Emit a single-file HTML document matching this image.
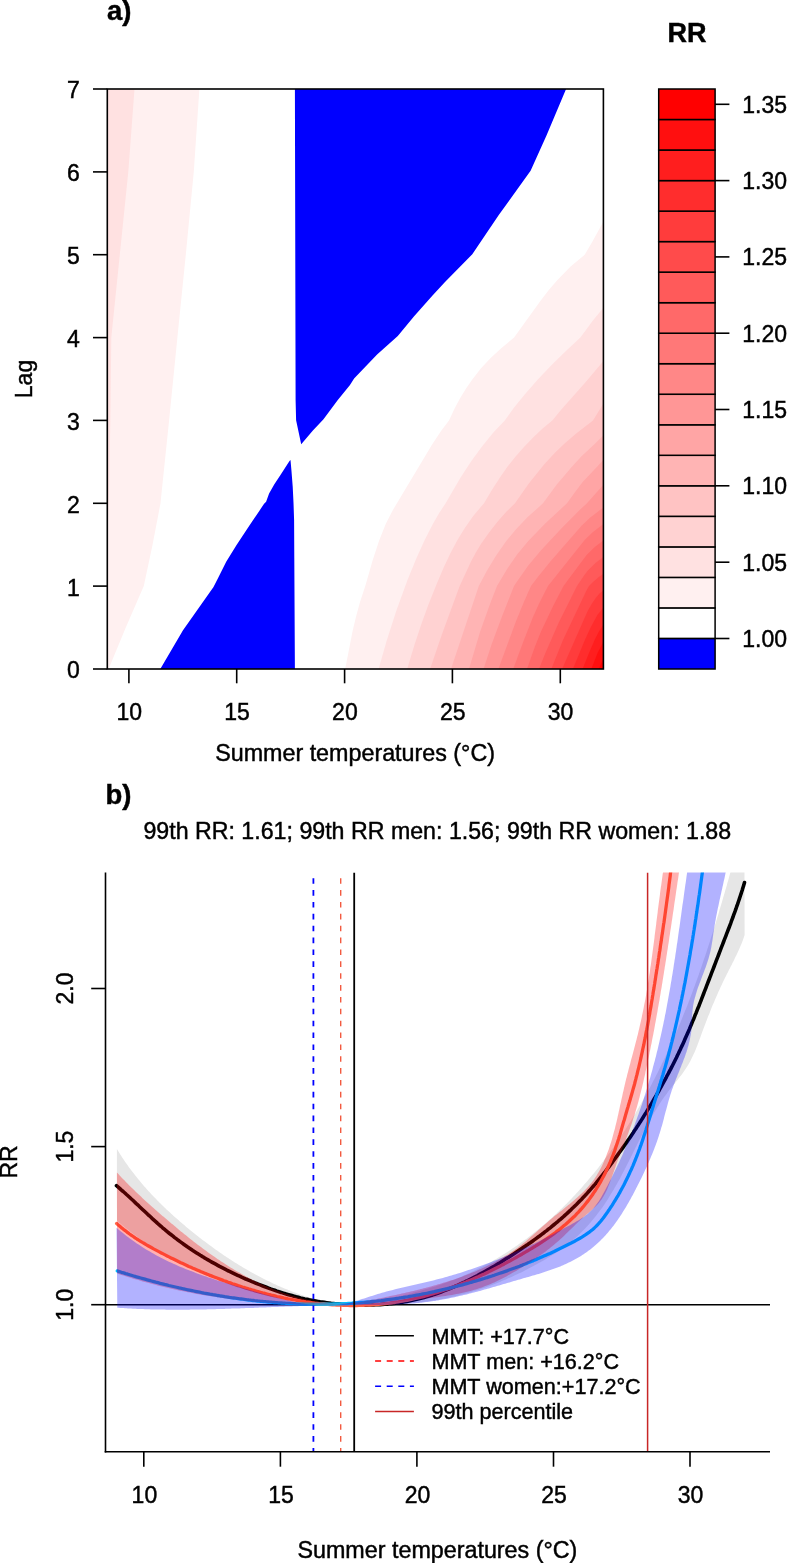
<!DOCTYPE html><html><head><meta charset="utf-8"><style>html,body{margin:0;padding:0;background:#fff;}svg{display:block;will-change:transform;}</style></head><body>
<svg width="787" height="1563" viewBox="0 0 787 1563" font-family="Liberation Sans, sans-serif" fill="#000"><style>text{stroke:#000;stroke-width:0.45px;}</style>
<defs></defs>
<clipPath id="clipA"><rect x="107.3" y="89.0" width="496.09999999999997" height="580.0"/></clipPath>
<g clip-path="url(#clipA)">
<rect x="107.3" y="89.0" width="496.09999999999997" height="580.0" fill="#FFFFFF"/>
<path d="M345.2 669 L603.4 669 L603.4 221.6 L592.6 241.3 L584.7 254.7 L570.6 266.6 L557.2 280.3 L548.6 290.3 L540 301.4 L514.1 337.6 L501.2 348.2 L490.4 358.3 L480.8 368.6 L472.3 379.4 L466.2 388.2 L460.2 398.1 L454.6 408.6 L449 420.4 L441.2 430.8 L432.1 444.6 L392.9 509.9 L385.7 524 L378.9 541.3 L372.6 560.4 L365.3 586.1 L360.1 601.8 L356.2 615.9 L352.6 631Z" fill="#FFF0F0"/>
<path d="M378.6 669 L603.4 669 L603.4 307.7 L593.1 320.3 L580.4 337.6 L565.9 350.9 L552.1 364.4 L537.8 379.4 L524.9 394.2 L514.1 407.6 L504.8 420.4 L493.8 432 L482.2 446.2 L471.4 461.1 L460.6 477.6 L445.6 503.3 L439.5 512.5 L433.4 522.9 L424.8 539.8 L416.3 558.5 L407.5 580.1 L396.5 610.3 L386.8 640.3Z" fill="#FFE1E1"/>
<path d="M407.2 669 L603.4 669 L603.4 360.9 L586.6 380.9 L560.7 410.2 L552.3 420.4 L542.6 428.6 L533.1 437.5 L524 446.9 L515.4 456.7 L507.6 466.6 L500.3 476.9 L492.5 489 L484 503.3 L473.6 515.4 L464.5 528.4 L457.2 540.6 L450.3 553.6 L443.8 567.2 L437.2 582.7 L428.3 605.1 L421.4 624 L414.5 644.8Z" fill="#FFD2D2"/>
<path d="M430.1 669 L603.4 669 L603.4 403.4 L593 420.4 L576.2 433.5 L564.6 443.4 L554.7 453 L544.3 464.3 L528.8 483.5 L515 503.3 L506.3 511.8 L497.7 521.6 L489.1 532.5 L481.3 543.6 L475.7 552.8 L470.8 562 L459.7 586.1 L441.6 635.2Z" fill="#FFC3C3"/>
<path d="M451 669 L603.4 669 L603.4 435.3 L595.2 443.6 L581.8 456.1 L571.9 466.7 L556.8 484.6 L543 503.3 L527.7 517.1 L515.8 529.4 L505.9 541.6 L496 555.8 L486.9 570.7 L478.8 586.1Z" fill="#FFB4B4"/>
<path d="M469 669 L603.4 669 L603.4 460 L582.7 482.1 L576.2 490.4 L567 503.3 L545.2 523.6 L528.1 541.3 L517.1 554.6 L507.6 568.2 L497 586.1 L490.2 603.4 L480 631.9Z" fill="#FFA5A5"/>
<path d="M483.5 669 L603.4 669 L603.4 484.7 L587 503.3 L579.7 509.9 L562.8 527 L541.3 550 L528.3 565.5 L516.7 581.9 L514 586.1 L501.6 617.4 L491.5 644.8Z" fill="#FF9696"/>
<path d="M498.4 669 L603.4 669 L603.4 507.4 L590 517.7 L581.8 525.6 L550.8 561 L538.8 575.8 L531 586.1 L524 601.7 L515.8 621.8Z" fill="#FF8787"/>
<path d="M513.2 669 L603.4 669 L603.4 524 L593 531.9 L584.9 539.7 L548 586.1 L539.1 603.4 L532.9 617.2 L523.4 641.4Z" fill="#FF7878"/>
<path d="M527 669 L603.4 669 L603.4 540.6 L594.8 547.1 L586.6 554.9 L563.5 586.1 L552.9 606.4 L540.8 632 L534.8 646.9Z" fill="#FF6969"/>
<path d="M539 669 L603.4 669 L603.4 557.1 L596.1 562.6 L588.3 570 L584.4 574.9 L577 586.1 L558.1 623.9 L545.2 653.6Z" fill="#FF5A5A"/>
<path d="M551.3 669 L603.4 669 L603.4 573.7 L598.2 577.4 L593 582 L589 586.1 L586.6 590.2 L562.8 640.6Z" fill="#FF4B4B"/>
<path d="M562.1 669 L603.4 669 L603.4 590.4 L599.5 593.6 L596.1 597.5 L592 603.4 L587.9 610.5Z" fill="#FF3C3C"/>
<path d="M572.9 669 L603.4 669 L603.4 607.5 L597.4 615.1 L590.5 627.7 L585.3 639Z" fill="#FF2D2D"/>
<path d="M582.6 669 L603.4 669 L603.4 624.6 L599.1 631.2 L595.2 638.7 L589.2 652.5Z" fill="#FF1E1E"/>
<path d="M591.3 669 L603.4 669 L603.4 641.7 L597.8 652.5Z" fill="#FF0F0F"/>
<path d="M598.8 669 L603.4 669 L603.4 658.7 L601.2 663.3Z" fill="#FF0000"/>
<path d="M100 669 L108.6 669 L126 627 L143.8 586.1 L152.5 545 L160.5 503.3 L169.1 420.4 L177.4 337.6 L185.8 254.7 L193.8 171.8 L199.4 89 L100 89Z" fill="#FFF0F0"/>
<path d="M100 545 L107.3 545 L109.3 480 L110.4 420 L111.3 337.6 L119.8 254.7 L128.3 171.8 L134.5 89 L100 89Z" fill="#FFE1E1"/>
<path d="M159.7 670 L183 630.3 L213.5 587.1 L218.6 577 L226.2 561.7 L236.4 545.2 L249.1 526.1 L259.3 510.9 L264.1 503.7 L266.1 501.7 L269.1 493.6 L274.2 484.4 L280.3 475.3 L289.5 461 L290.5 460 L291.5 471.2 L292.7 486.4 L293.5 502.7 L294.1 520 L294.3 557.9 L294.9 670Z" fill="#0000FF"/>
<path d="M294.9 88 L566.5 88 L546.6 135.3 L530.6 170.8 L498.6 215.3 L472.3 254.2 L445 282 L432.3 295.7 L413.9 316.5 L397.8 336 L377.1 354.5 L354.1 378.6 L350 385 L337.6 400.2 L323.5 419.3 L312.9 430.5 L301.2 444.2 L296.1 420.3 L295.6 400Z" fill="#0000FF"/>
</g>
<rect x="107.3" y="89.0" width="496.09999999999997" height="580.0" fill="none" stroke="#000" stroke-width="1.6"/>
<line x1="93" y1="669" x2="107.3" y2="669" stroke="#000" stroke-width="1.6"/>
<text x="79.8" y="678.4" text-anchor="end" font-size="23">0</text>
<line x1="93" y1="586.1" x2="107.3" y2="586.1" stroke="#000" stroke-width="1.6"/>
<text x="79.8" y="595.5" text-anchor="end" font-size="23">1</text>
<line x1="93" y1="503.3" x2="107.3" y2="503.3" stroke="#000" stroke-width="1.6"/>
<text x="79.8" y="512.7" text-anchor="end" font-size="23">2</text>
<line x1="93" y1="420.4" x2="107.3" y2="420.4" stroke="#000" stroke-width="1.6"/>
<text x="79.8" y="429.8" text-anchor="end" font-size="23">3</text>
<line x1="93" y1="337.6" x2="107.3" y2="337.6" stroke="#000" stroke-width="1.6"/>
<text x="79.8" y="347" text-anchor="end" font-size="23">4</text>
<line x1="93" y1="254.7" x2="107.3" y2="254.7" stroke="#000" stroke-width="1.6"/>
<text x="79.8" y="264.1" text-anchor="end" font-size="23">5</text>
<line x1="93" y1="171.9" x2="107.3" y2="171.9" stroke="#000" stroke-width="1.6"/>
<text x="79.8" y="181.3" text-anchor="end" font-size="23">6</text>
<line x1="93" y1="89" x2="107.3" y2="89" stroke="#000" stroke-width="1.6"/>
<text x="79.8" y="98.4" text-anchor="end" font-size="23">7</text>
<line x1="128.9" y1="669.0" x2="128.9" y2="683.3" stroke="#000" stroke-width="1.6"/>
<text x="129.2" y="720" text-anchor="middle" font-size="23">10</text>
<line x1="236.7" y1="669.0" x2="236.7" y2="683.3" stroke="#000" stroke-width="1.6"/>
<text x="237" y="720" text-anchor="middle" font-size="23">15</text>
<line x1="344.6" y1="669.0" x2="344.6" y2="683.3" stroke="#000" stroke-width="1.6"/>
<text x="344.9" y="720" text-anchor="middle" font-size="23">20</text>
<line x1="452.4" y1="669.0" x2="452.4" y2="683.3" stroke="#000" stroke-width="1.6"/>
<text x="452.7" y="720" text-anchor="middle" font-size="23">25</text>
<line x1="560.3" y1="669.0" x2="560.3" y2="683.3" stroke="#000" stroke-width="1.6"/>
<text x="560.6" y="720" text-anchor="middle" font-size="23">30</text>
<text x="355.1" y="761.2" text-anchor="middle" font-size="23.3">Summer temperatures (°C)</text>
<text transform="translate(32.2 379) rotate(-90)" text-anchor="middle" font-size="23">Lag</text>
<text x="106.9" y="20.3" font-size="27.5" font-weight="bold">a)</text>
<text x="687" y="42.3" text-anchor="middle" font-size="27" font-weight="bold">RR</text>
<rect x="658.7" y="638.5" width="56.4" height="30.5" fill="#0000FF" stroke="#000" stroke-width="1.5"/>
<rect x="658.7" y="607.9" width="56.4" height="30.5" fill="#FFFFFF" stroke="#000" stroke-width="1.5"/>
<rect x="658.7" y="577.4" width="56.4" height="30.5" fill="#FFF0F0" stroke="#000" stroke-width="1.5"/>
<rect x="658.7" y="546.9" width="56.4" height="30.5" fill="#FFE1E1" stroke="#000" stroke-width="1.5"/>
<rect x="658.7" y="516.4" width="56.4" height="30.5" fill="#FFD2D2" stroke="#000" stroke-width="1.5"/>
<rect x="658.7" y="485.8" width="56.4" height="30.5" fill="#FFC3C3" stroke="#000" stroke-width="1.5"/>
<rect x="658.7" y="455.3" width="56.4" height="30.5" fill="#FFB4B4" stroke="#000" stroke-width="1.5"/>
<rect x="658.7" y="424.8" width="56.4" height="30.5" fill="#FFA5A5" stroke="#000" stroke-width="1.5"/>
<rect x="658.7" y="394.3" width="56.4" height="30.5" fill="#FF9696" stroke="#000" stroke-width="1.5"/>
<rect x="658.7" y="363.7" width="56.4" height="30.5" fill="#FF8787" stroke="#000" stroke-width="1.5"/>
<rect x="658.7" y="333.2" width="56.4" height="30.5" fill="#FF7878" stroke="#000" stroke-width="1.5"/>
<rect x="658.7" y="302.7" width="56.4" height="30.5" fill="#FF6969" stroke="#000" stroke-width="1.5"/>
<rect x="658.7" y="272.2" width="56.4" height="30.5" fill="#FF5A5A" stroke="#000" stroke-width="1.5"/>
<rect x="658.7" y="241.6" width="56.4" height="30.5" fill="#FF4B4B" stroke="#000" stroke-width="1.5"/>
<rect x="658.7" y="211.1" width="56.4" height="30.5" fill="#FF3C3C" stroke="#000" stroke-width="1.5"/>
<rect x="658.7" y="180.6" width="56.4" height="30.5" fill="#FF2D2D" stroke="#000" stroke-width="1.5"/>
<rect x="658.7" y="150.1" width="56.4" height="30.5" fill="#FF1E1E" stroke="#000" stroke-width="1.5"/>
<rect x="658.7" y="119.5" width="56.4" height="30.5" fill="#FF0F0F" stroke="#000" stroke-width="1.5"/>
<rect x="658.7" y="89" width="56.4" height="30.5" fill="#FF0000" stroke="#000" stroke-width="1.5"/>
<line x1="715.1" y1="638.5" x2="729.4" y2="638.5" stroke="#000" stroke-width="1.6"/>
<text x="742.3" y="646.8" font-size="23">1.00</text>
<line x1="715.1" y1="562.2" x2="729.4" y2="562.2" stroke="#000" stroke-width="1.6"/>
<text x="742.3" y="570.5" font-size="23">1.05</text>
<line x1="715.1" y1="485.8" x2="729.4" y2="485.8" stroke="#000" stroke-width="1.6"/>
<text x="742.3" y="494.1" font-size="23">1.10</text>
<line x1="715.1" y1="409.5" x2="729.4" y2="409.5" stroke="#000" stroke-width="1.6"/>
<text x="742.3" y="417.8" font-size="23">1.15</text>
<line x1="715.1" y1="333.2" x2="729.4" y2="333.2" stroke="#000" stroke-width="1.6"/>
<text x="742.3" y="341.5" font-size="23">1.20</text>
<line x1="715.1" y1="256.9" x2="729.4" y2="256.9" stroke="#000" stroke-width="1.6"/>
<text x="742.3" y="265.2" font-size="23">1.25</text>
<line x1="715.1" y1="180.6" x2="729.4" y2="180.6" stroke="#000" stroke-width="1.6"/>
<text x="742.3" y="188.9" font-size="23">1.30</text>
<line x1="715.1" y1="104.3" x2="729.4" y2="104.3" stroke="#000" stroke-width="1.6"/>
<text x="742.3" y="112.6" font-size="23">1.35</text>
<clipPath id="clipB"><rect x="105.5" y="872.6" width="664.5" height="579.1"/></clipPath>
<g clip-path="url(#clipB)">
<path d="M116.9 1149 L117.7 1150.3 L118.6 1151.7 L119.4 1153.1 L120.3 1154.4 L121.2 1155.8 L122 1157.2 L122.9 1158.5 L123.8 1159.8 L124.7 1161.2 L125.6 1162.5 L126.5 1163.8 L127.5 1165.1 L128.4 1166.4 L129.3 1167.7 L130.3 1169 L131.2 1170.3 L132.2 1171.6 L133.2 1172.8 L134.2 1174.1 L135.1 1175.3 L136.1 1176.6 L137.1 1177.8 L138.1 1179.1 L139.2 1180.3 L140.2 1181.5 L141.2 1182.8 L142.2 1184 L143.3 1185.2 L144.3 1186.4 L145.4 1187.6 L146.4 1188.8 L147.5 1190 L148.6 1191.2 L149.7 1192.3 L150.7 1193.5 L151.8 1194.7 L152.9 1195.8 L154 1197 L155.1 1198.1 L156.3 1199.3 L157.4 1200.4 L158.5 1201.6 L159.6 1202.7 L160.8 1203.8 L161.9 1204.9 L163.1 1206 L164.2 1207.2 L165.4 1208.3 L166.5 1209.4 L167.7 1210.5 L168.9 1211.5 L170 1212.6 L171.2 1213.7 L172.4 1214.8 L173.6 1215.9 L174.8 1216.9 L176 1218 L177.2 1219.1 L178.4 1220.1 L179.6 1221.2 L180.8 1222.2 L182 1223.3 L183.2 1224.3 L184.5 1225.3 L185.7 1226.4 L186.9 1227.4 L188.2 1228.4 L189.4 1229.4 L190.6 1230.4 L191.9 1231.5 L193.1 1232.5 L194.4 1233.5 L195.6 1234.5 L196.9 1235.5 L198.2 1236.5 L199.4 1237.4 L200.7 1238.4 L202 1239.4 L203.2 1240.4 L204.5 1241.3 L205.8 1242.3 L207.1 1243.3 L208.4 1244.2 L209.7 1245.2 L210.9 1246.1 L212.2 1247.1 L213.5 1248 L214.8 1249 L216.2 1249.9 L217.5 1250.8 L218.8 1251.7 L220.1 1252.7 L221.4 1253.6 L222.7 1254.5 L224.1 1255.4 L225.4 1256.3 L226.7 1257.2 L228.1 1258 L229.4 1258.9 L230.8 1259.8 L232.1 1260.7 L233.4 1261.5 L234.8 1262.4 L236.2 1263.2 L237.5 1264.1 L238.9 1264.9 L240.3 1265.8 L241.6 1266.6 L243 1267.4 L244.4 1268.2 L245.8 1269 L247.1 1269.8 L248.5 1270.6 L249.9 1271.4 L251.3 1272.2 L252.7 1273 L254.1 1273.8 L255.5 1274.5 L256.9 1275.3 L258.4 1276 L259.8 1276.8 L261.2 1277.5 L262.6 1278.3 L264 1279 L265.5 1279.7 L266.9 1280.4 L268.3 1281.1 L269.8 1281.8 L271.2 1282.5 L272.7 1283.2 L274.1 1283.9 L275.6 1284.5 L277 1285.2 L278.5 1285.9 L280 1286.5 L281.5 1287.2 L282.9 1287.8 L284.4 1288.4 L285.9 1289 L287.4 1289.6 L288.9 1290.2 L290.4 1290.8 L291.9 1291.4 L293.4 1292 L294.9 1292.6 L296.4 1293.1 L297.9 1293.7 L299.4 1294.2 L300.9 1294.8 L302.4 1295.3 L304 1295.8 L305.5 1296.3 L307 1296.8 L308.6 1297.3 L310.1 1297.8 L311.7 1298.3 L313.2 1298.7 L314.7 1299.2 L316.3 1299.6 L317.9 1300 L319.4 1300.4 L321 1300.8 L322.5 1301.2 L324.1 1301.5 L325.7 1301.9 L327.2 1302.2 L328.8 1302.5 L330.4 1302.8 L332 1303.1 L333.5 1303.3 L335.1 1303.5 L336.7 1303.8 L338.3 1304 L339.8 1304.1 L341.4 1304.3 L343 1304.4 L344.6 1304.5 L346.2 1304.6 L347.8 1304.7 L349.3 1304.7 L350.9 1304.7 L352.5 1304.7 L354.1 1304.7 L355.7 1304.6 L357.3 1304.5 L358.9 1304.4 L360.5 1304.3 L362 1304.1 L363.6 1304 L365.2 1303.8 L366.8 1303.6 L368.4 1303.3 L370 1303.1 L371.6 1302.8 L373.1 1302.5 L374.7 1302.2 L376.3 1301.9 L377.9 1301.6 L379.5 1301.3 L381 1300.9 L382.6 1300.6 L384.2 1300.2 L385.8 1299.8 L387.3 1299.4 L388.9 1299.1 L390.5 1298.7 L392 1298.3 L393.6 1297.9 L395.2 1297.5 L396.7 1297 L398.3 1296.6 L399.8 1296.2 L401.4 1295.8 L402.9 1295.4 L404.5 1295 L406 1294.6 L407.6 1294.2 L409.1 1293.8 L410.7 1293.4 L412.2 1293 L413.7 1292.6 L415.3 1292.1 L416.8 1291.7 L418.3 1291.3 L419.9 1290.9 L421.4 1290.5 L422.9 1290 L424.4 1289.6 L426 1289.1 L427.5 1288.7 L429 1288.2 L430.5 1287.8 L432 1287.3 L433.6 1286.9 L435.1 1286.4 L436.6 1285.9 L438.1 1285.4 L439.6 1284.9 L441.1 1284.4 L442.6 1283.9 L444.1 1283.3 L445.6 1282.8 L447.2 1282.3 L448.7 1281.7 L450.2 1281.1 L451.7 1280.6 L453.2 1280 L454.7 1279.4 L456.2 1278.8 L457.7 1278.2 L459.2 1277.5 L460.7 1276.9 L462.2 1276.2 L463.7 1275.6 L465.2 1274.9 L466.7 1274.3 L468.2 1273.6 L469.6 1272.9 L471.1 1272.2 L472.6 1271.5 L474.1 1270.8 L475.5 1270 L477 1269.3 L478.4 1268.6 L479.9 1267.8 L481.3 1267.1 L482.8 1266.3 L484.2 1265.6 L485.6 1264.8 L487.1 1264 L488.5 1263.3 L489.9 1262.5 L491.3 1261.7 L492.7 1260.9 L494.1 1260.1 L495.5 1259.2 L496.9 1258.4 L498.3 1257.6 L499.7 1256.8 L501 1255.9 L502.4 1255.1 L503.8 1254.2 L505.1 1253.4 L506.5 1252.5 L507.8 1251.7 L509.2 1250.8 L510.5 1249.9 L511.8 1249 L513.2 1248.1 L514.5 1247.2 L515.8 1246.3 L517.1 1245.4 L518.4 1244.5 L519.7 1243.6 L521 1242.6 L522.3 1241.7 L523.6 1240.8 L524.9 1239.8 L526.2 1238.9 L527.4 1237.9 L528.7 1237 L530 1236 L531.2 1235 L532.5 1234 L533.7 1233.1 L535 1232.1 L536.2 1231.1 L537.5 1230.1 L538.7 1229.1 L539.9 1228.1 L541.1 1227 L542.3 1226 L543.6 1225 L544.8 1224 L546 1222.9 L547.2 1221.9 L548.3 1220.8 L549.5 1219.8 L550.7 1218.7 L551.9 1217.7 L553.1 1216.6 L554.2 1215.5 L555.4 1214.5 L556.6 1213.4 L557.7 1212.3 L558.9 1211.2 L560 1210.1 L561.1 1209 L562.3 1207.9 L563.4 1206.8 L564.5 1205.7 L565.7 1204.6 L566.8 1203.4 L567.9 1202.3 L569 1201.2 L570.1 1200 L571.2 1198.9 L572.3 1197.7 L573.4 1196.6 L574.5 1195.4 L575.6 1194.3 L576.6 1193.1 L577.7 1191.9 L578.8 1190.8 L579.8 1189.6 L580.9 1188.4 L582 1187.2 L583 1186 L584 1184.8 L585.1 1183.6 L586.1 1182.4 L587.2 1181.2 L588.2 1180 L589.2 1178.8 L590.2 1177.6 L591.3 1176.3 L592.3 1175.1 L593.3 1173.9 L594.3 1172.7 L595.3 1171.4 L596.3 1170.2 L597.3 1168.9 L598.3 1167.7 L599.2 1166.4 L600.2 1165.2 L601.2 1163.9 L602.2 1162.6 L603.1 1161.4 L604.1 1160.1 L605 1158.8 L606 1157.5 L606.9 1156.3 L607.9 1155 L608.8 1153.7 L609.8 1152.4 L610.7 1151.1 L611.6 1149.8 L612.6 1148.5 L613.5 1147.2 L614.4 1145.9 L615.3 1144.5 L616.2 1143.2 L617.1 1141.9 L618 1140.6 L618.9 1139.3 L619.8 1137.9 L620.7 1136.6 L621.6 1135.3 L622.5 1133.9 L623.4 1132.6 L624.2 1131.2 L625.1 1129.9 L626 1128.5 L626.8 1127.2 L627.7 1125.8 L628.6 1124.5 L629.4 1123.1 L630.3 1121.7 L631.1 1120.4 L631.9 1119 L632.8 1117.6 L633.6 1116.3 L634.4 1114.9 L635.3 1113.5 L636.1 1112.1 L636.9 1110.7 L637.7 1109.3 L638.5 1108 L639.3 1106.6 L640.2 1105.2 L641 1103.8 L641.7 1102.4 L642.5 1101 L643.3 1099.6 L644.1 1098.1 L644.9 1096.7 L645.7 1095.3 L646.5 1093.9 L647.2 1092.5 L648 1091.1 L648.8 1089.7 L649.5 1088.2 L650.3 1086.8 L651 1085.4 L651.8 1084 L652.5 1082.5 L653.3 1081.1 L654 1079.7 L654.8 1078.2 L655.5 1076.8 L656.2 1075.3 L657 1073.9 L657.7 1072.5 L658.4 1071 L659.1 1069.6 L659.8 1068.1 L660.5 1066.7 L661.2 1065.2 L661.9 1063.8 L662.7 1062.3 L663.3 1060.9 L664 1059.4 L664.7 1057.9 L665.4 1056.5 L666.1 1055 L666.8 1053.6 L667.5 1052.1 L668.1 1050.6 L668.8 1049.2 L669.5 1047.7 L670.1 1046.2 L670.8 1044.7 L671.5 1043.3 L672.1 1041.8 L672.8 1040.3 L673.4 1038.8 L674.1 1037.4 L674.7 1035.9 L675.4 1034.4 L676 1032.9 L676.6 1031.5 L677.3 1030 L677.9 1028.5 L678.5 1027 L679.1 1025.5 L679.8 1024 L680.4 1022.6 L681 1021.1 L681.6 1019.6 L682.2 1018.1 L682.8 1016.6 L683.4 1015.1 L684 1013.6 L684.6 1012.1 L685.2 1010.6 L685.8 1009.2 L686.4 1007.7 L687 1006.2 L687.6 1004.7 L688.1 1003.2 L688.7 1001.7 L689.3 1000.2 L689.9 998.7 L690.4 997.2 L691 995.7 L691.6 994.2 L692.1 992.7 L692.7 991.2 L693.2 989.7 L693.8 988.2 L694.3 986.7 L694.9 985.2 L695.4 983.7 L696 982.2 L696.5 980.7 L697.1 979.3 L697.6 977.8 L698.1 976.3 L698.7 974.8 L699.2 973.3 L699.7 971.8 L700.2 970.3 L700.8 968.8 L701.3 967.3 L701.8 965.7 L702.3 964.2 L702.8 962.7 L703.3 961.2 L703.8 959.7 L704.3 958.2 L704.9 956.7 L705.4 955.2 L705.9 953.7 L706.4 952.2 L706.9 950.7 L707.3 949.2 L707.8 947.7 L708.3 946.2 L708.8 944.7 L709.3 943.2 L709.8 941.7 L710.3 940.1 L710.8 938.6 L711.2 937.1 L711.7 935.6 L712.2 934.1 L712.7 932.6 L713.1 931.1 L713.6 929.6 L714.1 928 L714.6 926.5 L715 925 L715.5 923.5 L716 922 L716.4 920.5 L716.9 918.9 L717.3 917.4 L717.8 915.9 L718.3 914.4 L718.7 912.9 L719.2 911.3 L719.6 909.8 L720.1 908.3 L720.5 906.8 L721 905.2 L721.4 903.7 L721.9 902.2 L722.3 900.7 L722.8 899.1 L723.2 897.6 L723.7 896.1 L724.1 894.6 L724.6 893 L725 891.5 L725.4 890 L725.9 888.4 L726.3 886.9 L726.8 885.4 L727.2 883.8 L727.6 882.3 L728.1 880.8 L728.5 879.2 L728.9 877.7 L729.4 876.1 L729.8 874.6 L730.2 873.1 L730.7 871.5 L731.1 870 L731.5 868.4 L732 866.9 L732.4 865.3 L732.8 863.8 L733.3 862.2 L733.7 860.7 L734.1 859.2 L734.5 857.6 L735 856.1 L735.4 854.5 L735.8 852.9 L736.3 851.4 L736.7 849.8 L737.1 848.3 L737.5 846.7 L738 845.2 L738.4 843.6 L738.8 842.1 L739.2 840.5 L739.7 838.9 L740.1 837.4 L740.5 835.8 L740.9 834.2 L741.4 832.7 L741.8 831.1 L742.2 829.5 L742.7 828 L743.1 826.4 L743.5 824.8 L743.9 823.3 L744.4 821.7 L744.4 821.7 L744.6 935.1 L744.4 935.7 L743.7 937.7 L743 939.7 L742.3 941.7 L741.5 943.7 L740.7 945.6 L739.9 947.5 L739 949.5 L738.1 951.4 L737.3 953.3 L736.4 955.2 L735.4 957.1 L734.5 959 L733.6 960.9 L732.6 962.8 L731.7 964.7 L730.7 966.6 L729.8 968.4 L728.8 970.3 L727.9 972.2 L726.9 974.1 L726 976 L725 977.8 L724.1 979.7 L723.2 981.6 L722.3 983.5 L721.4 985.4 L720.5 987.3 L719.7 989.2 L718.8 991.1 L717.9 993.1 L717.1 995 L716.2 996.9 L715.4 998.8 L714.6 1000.8 L713.8 1002.7 L712.9 1004.6 L712.1 1006.6 L711.3 1008.5 L710.5 1010.4 L709.8 1012.4 L709 1014.4 L708.2 1016.3 L707.4 1018.3 L706.7 1020.2 L705.9 1022.2 L705.2 1024.2 L704.4 1026.2 L703.7 1028.1 L703 1030.1 L702.2 1032.1 L701.5 1034.1 L700.8 1036.1 L700.1 1038.1 L699.3 1040.1 L698.6 1042.1 L697.8 1044.1 L697.1 1046 L696.3 1048 L695.5 1049.9 L694.7 1051.9 L693.8 1053.8 L692.9 1055.7 L692 1057.6 L691.1 1059.5 L690.1 1061.4 L689.1 1063.2 L688.1 1065 L687 1066.8 L685.9 1068.6 L684.7 1070.3 L683.5 1072.1 L682.3 1073.8 L681 1075.4 L679.7 1077.1 L678.4 1078.8 L677.1 1080.4 L675.8 1082.1 L674.5 1083.7 L673.1 1085.3 L671.8 1087 L670.5 1088.7 L669.2 1090.3 L667.9 1092 L666.7 1093.7 L665.4 1095.4 L664.2 1097.1 L663 1098.8 L661.8 1100.6 L660.7 1102.3 L659.5 1104.1 L658.4 1105.9 L657.3 1107.6 L656.2 1109.4 L655.1 1111.2 L654 1113 L652.9 1114.8 L651.9 1116.6 L650.9 1118.5 L649.8 1120.3 L648.8 1122.1 L647.8 1124 L646.8 1125.8 L645.8 1127.7 L644.8 1129.5 L643.8 1131.4 L642.9 1133.3 L641.9 1135.2 L641 1137 L640 1138.9 L639 1140.8 L638.1 1142.7 L637.2 1144.6 L636.2 1146.4 L635.3 1148.3 L634.3 1150.2 L633.4 1152.1 L632.5 1154 L631.5 1155.9 L630.6 1157.8 L629.6 1159.7 L628.7 1161.5 L627.7 1163.4 L626.8 1165.3 L625.8 1167.2 L624.9 1169.1 L623.9 1170.9 L622.9 1172.8 L621.9 1174.7 L621 1176.5 L620 1178.4 L619 1180.2 L617.9 1182.1 L616.9 1183.9 L615.9 1185.8 L614.8 1187.6 L613.8 1189.4 L612.7 1191.2 L611.6 1193 L610.5 1194.8 L609.4 1196.6 L608.3 1198.4 L607.2 1200.2 L606 1201.9 L604.9 1203.7 L603.7 1205.4 L602.5 1207.2 L601.2 1208.9 L600 1210.6 L598.7 1212.3 L597.4 1214 L596.1 1215.7 L594.8 1217.3 L593.5 1219 L592.1 1220.6 L590.8 1222.2 L589.4 1223.8 L587.9 1225.4 L586.5 1227 L585.1 1228.5 L583.6 1230 L582.1 1231.5 L580.6 1233 L579.1 1234.5 L577.6 1235.9 L576 1237.4 L574.4 1238.8 L572.8 1240.2 L571.2 1241.5 L569.6 1242.9 L568 1244.2 L566.3 1245.5 L564.6 1246.7 L562.9 1248 L561.2 1249.2 L559.5 1250.4 L557.8 1251.6 L556 1252.7 L554.3 1253.9 L552.5 1255 L550.7 1256.1 L548.9 1257.2 L547.1 1258.3 L545.3 1259.4 L543.5 1260.5 L541.7 1261.5 L539.9 1262.6 L538 1263.6 L536.2 1264.6 L534.3 1265.6 L532.5 1266.6 L530.6 1267.6 L528.7 1268.6 L526.8 1269.5 L525 1270.5 L523.1 1271.4 L521.2 1272.4 L519.3 1273.3 L517.3 1274.2 L515.4 1275.1 L513.5 1276 L511.6 1276.9 L509.7 1277.7 L507.7 1278.6 L505.8 1279.4 L503.8 1280.3 L501.9 1281.1 L499.9 1281.9 L497.9 1282.7 L496 1283.5 L494 1284.2 L492 1285 L490 1285.7 L488.1 1286.4 L486.1 1287.2 L484.1 1287.9 L482.1 1288.5 L480.1 1289.2 L478.1 1289.9 L476.1 1290.5 L474 1291.1 L472 1291.8 L470 1292.4 L468 1292.9 L465.9 1293.5 L463.9 1294.1 L461.9 1294.6 L459.8 1295.1 L457.8 1295.7 L455.8 1296.2 L453.7 1296.6 L451.7 1297.1 L449.6 1297.5 L447.6 1298 L445.5 1298.4 L443.5 1298.8 L441.4 1299.2 L439.3 1299.6 L437.3 1299.9 L435.2 1300.3 L433.1 1300.6 L431.1 1300.9 L429 1301.2 L426.9 1301.5 L424.8 1301.7 L422.8 1302 L420.7 1302.2 L418.6 1302.5 L416.5 1302.7 L414.4 1302.9 L412.3 1303.1 L410.3 1303.3 L408.2 1303.4 L406.1 1303.6 L404 1303.7 L401.9 1303.9 L399.8 1304 L397.7 1304.1 L395.6 1304.2 L393.5 1304.3 L391.4 1304.3 L389.3 1304.4 L387.2 1304.5 L385.1 1304.5 L383 1304.5 L380.9 1304.5 L378.8 1304.6 L376.7 1304.6 L374.6 1304.5 L372.4 1304.5 L370.3 1304.5 L368.2 1304.5 L366.1 1304.4 L364 1304.4 L361.9 1304.3 L359.8 1304.2 L357.7 1304.2 L355.5 1304.1 L353.4 1304 L351.3 1303.9 L349.2 1303.8 L347.1 1303.7 L345 1303.5 L342.9 1303.4 L340.7 1303.3 L338.6 1303.1 L336.5 1303 L334.4 1302.8 L332.3 1302.6 L330.2 1302.4 L328.1 1302.3 L325.9 1302.1 L323.8 1301.9 L321.7 1301.6 L319.6 1301.4 L317.5 1301.2 L315.4 1300.9 L313.3 1300.7 L311.2 1300.4 L309.1 1300.2 L307 1299.9 L304.9 1299.6 L302.8 1299.3 L300.7 1299 L298.6 1298.7 L296.5 1298.4 L294.4 1298.1 L292.3 1297.7 L290.2 1297.4 L288.1 1297 L286 1296.7 L283.9 1296.3 L281.8 1295.9 L279.8 1295.5 L277.7 1295.1 L275.6 1294.7 L273.5 1294.3 L271.4 1293.9 L269.4 1293.4 L267.3 1293 L265.2 1292.5 L263.2 1292 L261.1 1291.6 L259.1 1291.1 L257 1290.6 L255 1290.1 L252.9 1289.5 L250.9 1289 L248.8 1288.5 L246.8 1287.9 L244.8 1287.4 L242.7 1286.8 L240.7 1286.2 L238.7 1285.6 L236.7 1285 L234.6 1284.4 L232.6 1283.8 L230.6 1283.1 L228.6 1282.5 L226.6 1281.8 L224.6 1281.2 L222.6 1280.5 L220.7 1279.8 L218.7 1279.1 L216.7 1278.4 L214.7 1277.7 L212.7 1276.9 L210.8 1276.2 L208.8 1275.4 L206.9 1274.7 L204.9 1273.9 L203 1273.1 L201 1272.3 L199.1 1271.5 L197.2 1270.6 L195.2 1269.8 L193.3 1268.9 L191.4 1268.1 L189.5 1267.2 L187.6 1266.3 L185.7 1265.4 L183.8 1264.5 L181.9 1263.6 L180 1262.7 L178.2 1261.7 L176.3 1260.8 L174.4 1259.8 L172.6 1258.8 L170.7 1257.8 L168.9 1256.8 L167.1 1255.8 L165.2 1254.8 L163.4 1253.7 L161.6 1252.6 L159.8 1251.6 L158 1250.5 L156.2 1249.4 L154.4 1248.3 L152.6 1247.2 L150.8 1246 L149.1 1244.9 L147.3 1243.7 L145.5 1242.5 L143.8 1241.4 L142.1 1240.2 L140.3 1238.9 L138.6 1237.7 L136.9 1236.5 L135.2 1235.2 L133.5 1233.9 L131.8 1232.7 L130.1 1231.4 L128.4 1230.1 L126.7 1228.7 L125.1 1227.4 L123.4 1226.1 L121.8 1224.7 L120.1 1223.3 L118.5 1221.9 L116.9 1220.5Z" fill="#E6E6E6"/>
<path d="M116.5 1185.7 L118.2 1187.1 L119.9 1188.6 L121.5 1190.1 L123.2 1191.5 L124.9 1193 L126.5 1194.5 L128.2 1196 L129.8 1197.5 L131.4 1199 L133.1 1200.5 L134.7 1202.1 L136.3 1203.6 L138 1205.1 L139.6 1206.7 L141.2 1208.2 L142.8 1209.7 L144.5 1211.3 L146.1 1212.8 L147.7 1214.3 L149.4 1215.8 L151 1217.3 L152.6 1218.9 L154.3 1220.4 L156 1221.9 L157.6 1223.4 L159.3 1224.8 L161 1226.3 L162.6 1227.8 L164.3 1229.2 L166 1230.6 L167.8 1232.1 L169.5 1233.5 L171.2 1234.8 L173 1236.2 L174.7 1237.6 L176.5 1238.9 L178.3 1240.3 L180.1 1241.6 L181.9 1242.9 L183.7 1244.2 L185.5 1245.5 L187.3 1246.8 L189.1 1248 L191 1249.3 L192.8 1250.5 L194.7 1251.7 L196.6 1252.9 L198.4 1254.1 L200.3 1255.3 L202.2 1256.4 L204.1 1257.6 L206 1258.7 L208 1259.9 L209.9 1261 L211.8 1262.1 L213.8 1263.2 L215.7 1264.2 L217.7 1265.3 L219.6 1266.4 L221.6 1267.4 L223.6 1268.4 L225.5 1269.4 L227.5 1270.5 L229.5 1271.4 L231.5 1272.4 L233.5 1273.4 L235.6 1274.4 L237.6 1275.3 L239.6 1276.2 L241.6 1277.2 L243.7 1278.1 L245.7 1279 L247.8 1279.8 L249.8 1280.7 L251.9 1281.6 L253.9 1282.4 L256 1283.3 L258.1 1284.1 L260.2 1284.9 L262.3 1285.7 L264.3 1286.5 L266.4 1287.3 L268.5 1288.1 L270.6 1288.9 L272.7 1289.6 L274.8 1290.3 L277 1291.1 L279.1 1291.8 L281.2 1292.4 L283.3 1293.1 L285.5 1293.8 L287.6 1294.4 L289.7 1295 L291.9 1295.6 L294 1296.2 L296.2 1296.8 L298.3 1297.3 L300.5 1297.9 L302.7 1298.4 L304.8 1298.9 L307 1299.3 L309.2 1299.8 L311.4 1300.2 L313.5 1300.6 L315.7 1301 L317.9 1301.4 L320.1 1301.8 L322.3 1302.1 L324.5 1302.4 L326.7 1302.7 L328.9 1303 L331.1 1303.3 L333.4 1303.5 L335.6 1303.7 L337.8 1303.9 L340 1304.1 L342.2 1304.3 L344.5 1304.5 L346.7 1304.6 L348.9 1304.7 L351.1 1304.8 L353.4 1304.9 L355.6 1305 L357.9 1305 L360.1 1305.1 L362.3 1305.1 L364.6 1305.1 L366.8 1305.1 L369.1 1305 L371.3 1305 L373.5 1304.9 L375.8 1304.8 L378 1304.7 L380.2 1304.6 L382.5 1304.4 L384.7 1304.2 L386.9 1304.1 L389.2 1303.8 L391.4 1303.6 L393.6 1303.4 L395.8 1303.1 L398.1 1302.8 L400.3 1302.5 L402.5 1302.1 L404.7 1301.8 L406.9 1301.4 L409 1301 L411.2 1300.5 L413.4 1300.1 L415.6 1299.6 L417.7 1299.1 L419.9 1298.5 L422 1298 L424.2 1297.4 L426.3 1296.8 L428.4 1296.2 L430.6 1295.5 L432.7 1294.9 L434.8 1294.2 L436.9 1293.5 L439 1292.7 L441.1 1292 L443.1 1291.2 L445.2 1290.4 L447.3 1289.6 L449.3 1288.8 L451.4 1287.9 L453.4 1287.1 L455.5 1286.2 L457.5 1285.3 L459.5 1284.4 L461.6 1283.4 L463.6 1282.5 L465.6 1281.5 L467.6 1280.6 L469.6 1279.6 L471.6 1278.6 L473.5 1277.6 L475.5 1276.5 L477.5 1275.5 L479.5 1274.4 L481.4 1273.4 L483.4 1272.3 L485.3 1271.2 L487.3 1270.1 L489.2 1269 L491.2 1267.9 L493.1 1266.8 L495 1265.7 L496.9 1264.5 L498.8 1263.4 L500.7 1262.2 L502.6 1261 L504.5 1259.8 L506.4 1258.6 L508.3 1257.4 L510.2 1256.2 L512.1 1255 L514 1253.8 L515.8 1252.6 L517.7 1251.3 L519.5 1250.1 L521.4 1248.8 L523.2 1247.6 L525.1 1246.3 L526.9 1245.1 L528.7 1243.8 L530.6 1242.5 L532.4 1241.2 L534.2 1239.9 L536 1238.6 L537.8 1237.3 L539.6 1236 L541.4 1234.6 L543.2 1233.3 L544.9 1231.9 L546.7 1230.6 L548.4 1229.2 L550.2 1227.8 L551.9 1226.4 L553.6 1225 L555.3 1223.6 L557.1 1222.2 L558.7 1220.7 L560.4 1219.3 L562.1 1217.8 L563.8 1216.4 L565.4 1214.9 L567.1 1213.4 L568.7 1211.9 L570.3 1210.4 L571.9 1208.8 L573.5 1207.3 L575.1 1205.7 L576.7 1204.2 L578.3 1202.6 L579.8 1201 L581.4 1199.4 L582.9 1197.8 L584.4 1196.2 L586 1194.6 L587.5 1192.9 L588.9 1191.3 L590.4 1189.6 L591.9 1187.9 L593.3 1186.3 L594.8 1184.6 L596.2 1182.9 L597.6 1181.1 L599 1179.4 L600.4 1177.7 L601.8 1176 L603.2 1174.2 L604.6 1172.5 L606 1170.7 L607.3 1168.9 L608.7 1167.2 L610 1165.4 L611.3 1163.6 L612.7 1161.8 L614 1160 L615.3 1158.2 L616.6 1156.4 L617.9 1154.6 L619.2 1152.8 L620.5 1151 L621.8 1149.2 L623.1 1147.4 L624.4 1145.5 L625.7 1143.7 L627 1141.9 L628.2 1140 L629.5 1138.2 L630.7 1136.4 L632 1134.5 L633.2 1132.7 L634.4 1130.8 L635.7 1129 L636.9 1127.1 L638.1 1125.3 L639.3 1123.4 L640.5 1121.5 L641.7 1119.6 L642.9 1117.7 L644 1115.9 L645.2 1114 L646.4 1112.1 L647.5 1110.2 L648.7 1108.3 L649.8 1106.4 L651 1104.5 L652.1 1102.5 L653.2 1100.6 L654.3 1098.7 L655.5 1096.8 L656.6 1094.8 L657.7 1092.9 L658.8 1091 L659.9 1089 L660.9 1087.1 L662 1085.1 L663.1 1083.2 L664.2 1081.2 L665.2 1079.3 L666.3 1077.3 L667.3 1075.3 L668.4 1073.4 L669.4 1071.4 L670.5 1069.4 L671.5 1067.4 L672.5 1065.5 L673.5 1063.5 L674.5 1061.5 L675.5 1059.5 L676.5 1057.5 L677.4 1055.5 L678.4 1053.5 L679.3 1051.5 L680.3 1049.5 L681.2 1047.4 L682.2 1045.4 L683.1 1043.4 L684 1041.4 L684.9 1039.3 L685.8 1037.3 L686.7 1035.3 L687.6 1033.2 L688.5 1031.2 L689.4 1029.1 L690.2 1027.1 L691.1 1025 L691.9 1023 L692.8 1020.9 L693.7 1018.9 L694.5 1016.8 L695.3 1014.7 L696.2 1012.7 L697 1010.6 L697.8 1008.5 L698.7 1006.5 L699.5 1004.4 L700.3 1002.3 L701.1 1000.3 L701.9 998.2 L702.7 996.1 L703.5 994 L704.3 991.9 L705.1 989.9 L705.9 987.8 L706.7 985.7 L707.5 983.6 L708.3 981.5 L709.1 979.5 L709.9 977.4 L710.7 975.3 L711.5 973.2 L712.3 971.1 L713.1 969.1 L713.9 967 L714.7 964.9 L715.5 962.8 L716.3 960.7 L717.1 958.6 L717.9 956.6 L718.7 954.5 L719.5 952.4 L720.3 950.3 L721.1 948.2 L721.9 946.2 L722.7 944.1 L723.5 942 L724.3 939.9 L725.1 937.9 L725.9 935.8 L726.7 933.7 L727.5 931.6 L728.3 929.5 L729.1 927.5 L729.9 925.4 L730.7 923.3 L731.4 921.2 L732.2 919.1 L733 917 L733.7 914.9 L734.5 912.8 L735.3 910.7 L736 908.7 L736.7 906.5 L737.5 904.4 L738.2 902.3 L738.9 900.2 L739.6 898.1 L740.3 896 L741 893.9 L741.7 891.8 L742.4 889.6 L743 887.5 L743.7 885.4 L744.3 883.2 L744.5 882.5" fill="none" stroke="#000" stroke-width="3.6" stroke-linecap="round" stroke-linejoin="round"/>
<line x1="105.5" y1="1304.7" x2="770.0" y2="1304.7" stroke="#000" stroke-width="1.6"/>
<path d="M116.6 1223.5 L117.8 1224.6 L118.9 1225.6 L120.1 1226.6 L121.3 1227.6 L122.5 1228.5 L123.7 1229.5 L124.9 1230.4 L126.1 1231.3 L127.8 1232.7 L129.6 1234 L131.5 1235.3 L133.3 1236.5 L135.1 1237.8 L136.9 1239 L138.7 1240.1 L140.6 1241.3 L142.4 1242.4 L144.3 1243.5 L146.1 1244.6 L148 1245.7 L149.9 1246.8 L151.7 1247.8 L153.6 1248.9 L155.5 1249.9 L157.4 1250.9 L159.3 1251.9 L161.3 1252.9 L163.2 1253.9 L165.1 1254.9 L167.1 1255.9 L169 1256.9 L171 1257.9 L172.9 1258.8 L174.9 1259.8 L176.9 1260.8 L178.8 1261.7 L180.8 1262.7 L182.8 1263.6 L184.8 1264.5 L186.8 1265.4 L188.8 1266.4 L190.9 1267.3 L192.9 1268.2 L194.9 1269 L197 1269.9 L199 1270.8 L201.1 1271.7 L203.1 1272.5 L205.2 1273.4 L207.2 1274.2 L209.3 1275.1 L211.4 1275.9 L213.5 1276.7 L215.6 1277.5 L217.7 1278.3 L219.8 1279.1 L221.9 1279.9 L224 1280.7 L226.1 1281.4 L228.2 1282.2 L230.3 1282.9 L232.4 1283.7 L234.6 1284.4 L236.7 1285.1 L238.1 1285.6 L239.5 1286 L241 1286.5 L242.4 1287 L243.8 1287.4 L245.3 1287.9 L246.7 1288.3 L248.1 1288.7 L249.6 1289.2 L251 1289.6 L252.5 1290 L253.9 1290.4 L255.3 1290.9 L256.8 1291.3 L258.2 1291.7 L259.7 1292.1 L261.1 1292.5 L262.6 1292.9 L264 1293.2 L265.5 1293.6 L266.9 1294 L268.4 1294.4 L269.8 1294.7 L271.3 1295.1 L272.8 1295.4 L274.9 1295.9 L277.1 1296.5 L279.3 1296.9 L281.5 1297.4 L283.7 1297.9 L285.9 1298.3 L288.1 1298.8 L290.3 1299.2 L292.5 1299.6 L294.7 1300 L296.9 1300.4 L299.2 1300.8 L301.4 1301.2 L303.6 1301.5 L305.8 1301.9 L308 1302.2 L310.2 1302.5 L312.4 1302.8 L314.6 1303.1 L316.9 1303.3 L319.1 1303.6 L321.3 1303.8 L323.5 1304 L325.7 1304.2 L327.9 1304.4 L330.2 1304.6 L332.4 1304.8 L334.6 1304.9 L336.8 1305 L339 1305.1 L341.2 1305.2 L343.5 1305.3 L345.7 1305.4 L347.9 1305.4 L350.1 1305.5 L352.3 1305.5 L354.5 1305.5 L356.7 1305.5 L358.9 1305.4 L361.1 1305.4 L363.3 1305.3 L365.5 1305.2 L367.7 1305.1 L369.9 1305 L372.1 1304.9 L374.3 1304.7 L376.5 1304.6 L378.7 1304.4 L380.9 1304.2 L383.1 1303.9 L385.3 1303.7 L387.5 1303.4 L389.6 1303.2 L391.8 1302.9 L394 1302.5 L396.2 1302.2 L398.3 1301.9 L400.5 1301.5 L402.6 1301.1 L404.8 1300.7 L407 1300.3 L409.1 1299.8 L411.3 1299.4 L413.4 1298.9 L415.5 1298.4 L417.7 1297.9 L419.8 1297.4 L422 1296.8 L424.1 1296.3 L426.2 1295.7 L428.3 1295.1 L430.4 1294.5 L432.6 1293.9 L434.7 1293.2 L436.8 1292.6 L438.9 1291.9 L441 1291.2 L443.1 1290.5 L445.2 1289.8 L447.3 1289.1 L449.4 1288.4 L451.4 1287.6 L453.5 1286.8 L455.6 1286.1 L457.7 1285.3 L459.7 1284.5 L461.8 1283.6 L463.9 1282.8 L465.9 1282 L468 1281.1 L470 1280.3 L472.1 1279.4 L474.1 1278.5 L476.2 1277.6 L478.2 1276.7 L480.2 1275.7 L482.3 1274.8 L484.3 1273.9 L486.3 1272.9 L488.3 1271.9 L490.3 1271 L492.3 1270 L494.3 1269 L496.3 1268 L498.3 1267 L500.3 1266 L502.3 1264.9 L504.3 1263.9 L506.3 1262.8 L508.2 1261.8 L510.2 1260.7 L512.2 1259.6 L514.1 1258.6 L516.1 1257.5 L518 1256.4 L520 1255.3 L521.9 1254.2 L523.8 1253 L525.8 1251.9 L527.7 1250.8 L529.6 1249.6 L531.5 1248.5 L533.4 1247.3 L535.3 1246.2 L537.2 1245 L539.1 1243.8 L541 1242.6 L542.8 1241.4 L544.7 1240.1 L546.5 1238.9 L548.3 1237.6 L550.1 1236.4 L551.9 1235.1 L553.7 1233.8 L555.5 1232.5 L557.2 1231.1 L559 1229.8 L560.7 1228.4 L562.4 1227 L564.1 1225.6 L565.8 1224.2 L567.4 1222.8 L569.1 1221.3 L570.7 1219.8 L572.3 1218.3 L573.9 1216.8 L575.4 1215.3 L576.9 1213.7 L578.5 1212.1 L579.9 1210.5 L581.4 1208.9 L582.9 1207.2 L584.3 1205.5 L585.7 1203.8 L587 1202.1 L588.4 1200.4 L589.7 1198.6 L591 1196.8 L592.3 1195 L593.5 1193.1 L594.8 1191.3 L596 1189.4 L597.1 1187.5 L598.3 1185.6 L599.4 1183.7 L600.5 1181.8 L601.6 1179.8 L602.7 1177.8 L603.7 1175.9 L604.7 1173.9 L605.7 1171.9 L606.7 1169.8 L607.7 1167.8 L608.6 1165.8 L609.5 1163.7 L610.4 1161.7 L611.2 1159.6 L612.1 1157.5 L612.9 1155.5 L613.7 1153.4 L614.5 1151.3 L615.2 1149.2 L615.9 1147.1 L616.6 1145 L617.3 1142.9 L618 1140.8 L618.7 1138.7 L619.3 1136.6 L620 1134.5 L620.6 1132.4 L621.2 1130.3 L621.8 1128.1 L622.4 1126 L623 1123.9 L623.6 1121.8 L624.3 1119.7 L624.9 1117.5 L625.5 1115.4 L626.1 1113.3 L626.7 1111.2 L627.3 1109.1 L628 1106.9 L628.6 1104.8 L629.2 1102.7 L629.9 1100.6 L630.5 1098.4 L631.1 1096.3 L631.7 1094.2 L632.3 1092.1 L632.9 1089.9 L633.5 1087.8 L634.1 1085.7 L634.7 1083.5 L635.2 1081.4 L635.8 1079.2 L636.3 1077.1 L636.9 1074.9 L637.4 1072.8 L637.9 1070.6 L638.5 1068.5 L639 1066.3 L639.5 1064.2 L640 1062 L640.5 1059.8 L641 1057.7 L641.4 1055.5 L641.9 1053.4 L642.4 1051.2 L642.8 1049 L643.3 1046.8 L643.8 1044.7 L644.2 1042.5 L644.6 1040.3 L645.1 1038.2 L645.5 1036 L645.9 1033.8 L646.3 1031.6 L646.8 1029.4 L647.2 1027.3 L647.6 1025.1 L648 1022.9 L648.4 1020.7 L648.8 1018.5 L649.2 1016.3 L649.6 1014.2 L649.9 1012 L650.3 1009.8 L650.7 1007.6 L651.1 1005.4 L651.4 1003.2 L651.8 1001 L652.2 998.8 L652.5 996.7 L652.9 994.5 L653.2 992.3 L653.6 990.1 L654 987.9 L654.3 985.7 L654.7 983.5 L655 981.3 L655.4 979.1 L655.7 976.9 L656 974.8 L656.4 972.6 L656.7 970.4 L657.1 968.2 L657.4 966 L657.8 963.8 L658.1 961.6 L658.4 959.4 L658.8 957.2 L659.1 955 L659.4 952.8 L659.8 950.7 L660.1 948.5 L660.4 946.3 L660.7 944.1 L661.1 941.9 L661.4 939.7 L661.7 937.5 L662 935.3 L662.4 933.1 L662.7 930.9 L663 928.8 L663.3 926.6 L663.6 924.4 L664 922.2 L664.3 920 L664.6 917.8 L664.9 915.6 L665.2 913.4 L665.5 911.2 L665.8 909 L666.1 906.8 L666.4 904.6 L666.7 902.4 L667 900.2 L667.3 898 L667.6 895.9 L667.9 893.7 L668.2 891.5 L668.5 889.3 L668.8 887.1 L669 884.9 L669.3 882.7 L669.6 880.5 L669.9 878.3 L670.2 876.1 L670.4 873.9 L670.7 871.7 L671 869.5 L671.3 867.3 L671.5 865.1 L671.8 862.9 L672.1 860.7 L672.3 858.5 L672.6 856.3 L672.8 854.1 L673.1 851.8 L673.4 849.6 L673.6 847.4 L673.8 846" fill="none" stroke="#FF6347" stroke-width="3.3" stroke-linecap="round" stroke-linejoin="round"/>
<path d="M117.2 1270.9 L119.3 1271.6 L121.4 1272.3 L123.6 1272.9 L125.7 1273.6 L127.8 1274.2 L130 1274.9 L132.1 1275.5 L134.3 1276.2 L136.4 1276.8 L138.5 1277.4 L140.7 1278 L142.9 1278.6 L145 1279.2 L147.2 1279.8 L149.3 1280.4 L151.5 1281 L153.7 1281.6 L155.8 1282.2 L158 1282.7 L160.2 1283.3 L162.4 1283.8 L164.5 1284.4 L166.7 1284.9 L168.9 1285.5 L171.1 1286 L173.3 1286.5 L175.5 1287 L177.7 1287.5 L179.1 1287.9 L180.6 1288.2 L182 1288.5 L183.5 1288.8 L185 1289.2 L186.4 1289.5 L187.9 1289.8 L189.4 1290.1 L190.8 1290.4 L192.3 1290.7 L193.8 1291 L195.3 1291.3 L196.7 1291.6 L198.2 1291.9 L199.7 1292.2 L201.2 1292.5 L202.6 1292.8 L204.1 1293.1 L205.6 1293.3 L207.1 1293.6 L208.5 1293.9 L210 1294.2 L211.5 1294.4 L213 1294.7 L214.5 1294.9 L215.9 1295.2 L217.4 1295.5 L218.9 1295.7 L220.4 1296 L221.9 1296.2 L223.4 1296.4 L224.8 1296.7 L226.3 1296.9 L227.8 1297.1 L229.3 1297.4 L230.8 1297.6 L232.3 1297.8 L233.8 1298 L235.2 1298.2 L236.7 1298.4 L238.2 1298.6 L239.7 1298.8 L241.2 1299 L242.7 1299.2 L244.2 1299.4 L245.7 1299.6 L247.2 1299.8 L248.7 1300 L250.2 1300.1 L251.7 1300.3 L253.1 1300.5 L254.6 1300.7 L256.1 1300.8 L257.6 1301 L259.1 1301.1 L260.6 1301.3 L262.1 1301.4 L263.6 1301.6 L265.1 1301.7 L266.6 1301.9 L268.1 1302 L269.6 1302.1 L271.1 1302.2 L272.6 1302.4 L274.1 1302.5 L275.6 1302.6 L277.1 1302.7 L278.6 1302.8 L280.1 1302.9 L281.6 1303 L283.1 1303.1 L284.6 1303.2 L286.1 1303.3 L287.6 1303.4 L289.1 1303.5 L290.6 1303.5 L292.1 1303.6 L293.6 1303.7 L295.1 1303.7 L296.6 1303.8 L298.1 1303.9 L299.6 1303.9 L301.1 1304 L302.6 1304 L304.8 1304.1 L307.1 1304.1 L309.3 1304.2 L311.6 1304.2 L313.8 1304.2 L316.1 1304.2 L318.3 1304.2 L320.6 1304.2 L322.8 1304.2 L325.1 1304.2 L327.3 1304.2 L329.5 1304.1 L331.8 1304.1 L334 1304 L336.3 1303.9 L338.5 1303.9 L340.8 1303.8 L343 1303.7 L345.3 1303.6 L347.5 1303.5 L349.7 1303.3 L352 1303.2 L354.2 1303 L356.5 1302.9 L358.7 1302.7 L360.9 1302.5 L363.2 1302.4 L365.4 1302.2 L367.6 1302 L369.9 1301.8 L372.1 1301.5 L374.3 1301.3 L376.6 1301.1 L378.8 1300.8 L381 1300.6 L383.2 1300.3 L385.5 1300 L387.7 1299.7 L389.9 1299.4 L392.1 1299.1 L394.4 1298.8 L396.6 1298.5 L398.8 1298.2 L401 1297.8 L403.2 1297.5 L405.5 1297.1 L407.7 1296.8 L409.9 1296.4 L412.1 1296 L414.3 1295.6 L416.5 1295.2 L418.7 1294.8 L420.9 1294.4 L423.1 1293.9 L425.3 1293.5 L427.5 1293.1 L429.7 1292.6 L431.9 1292.1 L434.1 1291.7 L436.3 1291.2 L438.5 1290.7 L440.7 1290.2 L442.9 1289.7 L445.1 1289.2 L447.2 1288.7 L449.4 1288.1 L451.6 1287.6 L453.8 1287 L456 1286.5 L458.1 1285.9 L460.3 1285.3 L462.5 1284.8 L464.7 1284.2 L466.8 1283.6 L469 1283 L471.2 1282.3 L472.6 1281.9 L474 1281.5 L475.5 1281.1 L476.9 1280.7 L478.4 1280.2 L479.8 1279.8 L481.2 1279.4 L482.7 1278.9 L484.1 1278.5 L485.5 1278 L487 1277.6 L488.4 1277.1 L489.8 1276.7 L491.2 1276.2 L492.7 1275.7 L494.1 1275.3 L495.5 1274.8 L497 1274.3 L498.4 1273.8 L499.8 1273.3 L501.2 1272.8 L502.6 1272.4 L504.1 1271.9 L505.5 1271.4 L506.9 1270.9 L508.3 1270.3 L509.7 1269.8 L511.1 1269.3 L512.5 1268.8 L513.9 1268.3 L515.3 1267.8 L516.7 1267.2 L518.2 1266.7 L519.6 1266.2 L521 1265.6 L522.4 1265.1 L523.7 1264.5 L525.1 1264 L526.5 1263.4 L527.9 1262.8 L529.3 1262.3 L530.7 1261.7 L532.1 1261.1 L533.5 1260.6 L534.9 1260 L536.3 1259.4 L537.6 1258.8 L539 1258.2 L540.4 1257.6 L541.8 1257 L543.8 1256.1 L545.9 1255.2 L547.9 1254.3 L550 1253.4 L552 1252.4 L554.1 1251.5 L556.1 1250.5 L558.1 1249.5 L560.1 1248.6 L562.2 1247.6 L564.2 1246.6 L566.2 1245.6 L568.2 1244.6 L570.2 1243.6 L572.2 1242.5 L574.2 1241.5 L576.1 1240.4 L578.1 1239.3 L580 1238.2 L581.9 1237.1 L583.8 1235.9 L585.7 1234.7 L587.5 1233.4 L589.3 1232.1 L591 1230.8 L592.7 1229.4 L594.4 1227.9 L596 1226.4 L597.5 1224.8 L599 1223.2 L600.5 1221.5 L601.9 1219.7 L603.3 1218 L604.2 1216.8 L605.1 1215.5 L606 1214.3 L606.8 1213.1 L607.7 1211.9 L608.5 1210.6 L609.4 1209.4 L610.2 1208.1 L611.1 1206.8 L611.9 1205.6 L612.7 1204.3 L613.5 1203 L614.3 1201.7 L615.1 1200.5 L615.9 1199.2 L616.6 1197.9 L617.4 1196.6 L618.2 1195.3 L618.9 1194 L619.7 1192.6 L620.4 1191.3 L621.1 1190 L621.8 1188.7 L622.6 1187.3 L623.3 1186 L624 1184.7 L624.7 1183.3 L625.3 1182 L626 1180.6 L626.7 1179.3 L627.3 1177.9 L628 1176.5 L628.6 1175.2 L629.3 1173.8 L629.9 1172.4 L630.5 1171.1 L631.2 1169.7 L631.8 1168.3 L632.4 1166.9 L633 1165.6 L633.6 1164.2 L634.1 1162.8 L634.7 1161.4 L635.3 1160 L635.8 1158.6 L636.4 1157.2 L637.2 1155.1 L638 1153 L638.8 1150.9 L639.6 1148.8 L640.3 1146.7 L641.1 1144.6 L641.8 1142.5 L642.5 1140.4 L643.2 1138.3 L643.9 1136.1 L644.6 1134 L645.3 1131.9 L646 1129.8 L646.6 1127.7 L647.3 1125.5 L647.9 1123.4 L648.6 1121.3 L649.3 1119.1 L649.9 1117 L650.6 1114.8 L651.2 1112.7 L651.9 1110.6 L652.5 1108.4 L653.2 1106.3 L653.8 1104.1 L654.5 1102 L655.2 1099.8 L655.8 1097.7 L656.3 1096.3 L656.7 1094.8 L657.2 1093.4 L657.6 1092 L658.1 1090.5 L658.5 1089.1 L658.9 1087.7 L659.4 1086.2 L659.8 1084.8 L660.3 1083.3 L660.7 1081.9 L661.1 1080.5 L661.6 1079 L662 1077.6 L662.4 1076.2 L662.9 1074.7 L663.3 1073.3 L663.7 1071.8 L664.1 1070.4 L664.5 1068.9 L665 1067.5 L665.4 1066.1 L665.8 1064.6 L666.2 1063.2 L666.6 1061.7 L667 1060.3 L667.4 1058.8 L667.8 1057.4 L668.2 1055.9 L668.6 1054.5 L668.9 1053 L669.5 1050.9 L670.1 1048.7 L670.7 1046.5 L671.2 1044.3 L671.8 1042.1 L672.3 1040 L672.9 1037.8 L673.4 1035.6 L673.9 1033.4 L674.5 1031.2 L675 1029 L675.5 1026.9 L676 1024.7 L676.5 1022.5 L677 1020.3 L677.5 1018.1 L678 1015.9 L678.5 1013.7 L679 1011.5 L679.5 1009.3 L679.9 1007.1 L680.4 1004.9 L680.9 1002.7 L681.3 1000.5 L681.8 998.3 L682.2 996.1 L682.7 993.9 L683.1 991.7 L683.6 989.5 L684 987.3 L684.4 985.1 L684.9 982.9 L685.3 980.7 L685.7 978.5 L686.1 976.3 L686.5 974.1 L686.9 971.9 L687.3 969.7 L687.7 967.5 L688.1 965.3 L688.5 963.1 L688.9 960.8 L689.3 958.6 L689.7 956.4 L690.1 954.2 L690.4 952 L690.8 949.8 L691.2 947.6 L691.6 945.4 L691.9 943.1 L692.3 940.9 L692.7 938.7 L693 936.5 L693.4 934.3 L693.7 932 L694.1 929.8 L694.4 927.6 L694.8 925.4 L695.1 923.2 L695.4 920.9 L695.8 918.7 L696.1 916.5 L696.4 914.3 L696.8 912.1 L697.1 909.8 L697.4 907.6 L697.8 905.4 L698.1 903.2 L698.4 900.9 L698.7 898.7 L699 896.5 L699.4 894.3 L699.7 892 L700 889.8 L700.3 887.6 L700.6 885.3 L700.9 883.1 L701.2 880.9 L701.5 878.7 L701.8 876.4 L702.1 874.2 L702.4 872 L702.7 869.8 L703 867.5 L703.3 865.3 L703.6 863.1 L703.9 860.8 L704.2 858.6 L704.5 856.4 L704.8 854.2 L705.1 851.9 L705.4 849.7 L705.7 847.5 L705.9 846" fill="none" stroke="#00BFFF" stroke-width="3.3" stroke-linecap="round" stroke-linejoin="round"/>
<path d="M116.9 1172.5 L118.4 1174.1 L119.9 1175.8 L121.5 1177.4 L123 1179 L124.6 1180.6 L126.1 1182.2 L127.7 1183.8 L129.3 1185.4 L130.9 1187 L132.5 1188.6 L134.1 1190.1 L135.7 1191.7 L136.8 1192.7 L137.9 1193.8 L139 1194.8 L140.1 1195.8 L141.2 1196.8 L142.3 1197.9 L143.4 1198.9 L144.5 1199.9 L145.6 1200.9 L146.7 1201.9 L147.9 1202.9 L149 1203.9 L150.1 1204.9 L151.2 1205.9 L152.3 1206.9 L153.5 1207.9 L154.6 1208.9 L155.7 1209.9 L156.9 1210.9 L158 1211.9 L159.1 1212.9 L160.3 1213.9 L161.4 1214.9 L162.5 1215.9 L163.7 1216.8 L164.8 1217.8 L166 1218.8 L167.1 1219.8 L168.3 1220.8 L169.4 1221.7 L170.6 1222.7 L171.7 1223.7 L172.9 1224.6 L174 1225.6 L175.2 1226.6 L176.3 1227.5 L177.5 1228.5 L178.6 1229.4 L179.8 1230.4 L180.9 1231.4 L182.1 1232.3 L183.3 1233.3 L184.4 1234.2 L185.6 1235.1 L186.8 1236.1 L188.5 1237.5 L190.3 1238.9 L192.1 1240.3 L193.8 1241.7 L195.6 1243 L197.4 1244.4 L199.2 1245.8 L201 1247.1 L202.8 1248.5 L204.6 1249.8 L206.4 1251.1 L208.2 1252.4 L210 1253.7 L211.8 1255 L213.7 1256.3 L215.5 1257.6 L217.4 1258.9 L219.2 1260.1 L221.1 1261.4 L223 1262.6 L224.8 1263.8 L226.7 1265 L228.6 1266.2 L230.5 1267.4 L232.4 1268.6 L234.3 1269.7 L236.3 1270.9 L238.2 1272 L240.2 1273.1 L242.1 1274.2 L244.1 1275.3 L246 1276.4 L248 1277.4 L250 1278.5 L251.4 1279.2 L252.7 1279.9 L254 1280.5 L255.4 1281.2 L256.7 1281.9 L258.1 1282.5 L259.5 1283.2 L260.8 1283.8 L262.2 1284.4 L263.6 1285 L264.9 1285.7 L266.3 1286.3 L267.7 1286.9 L269.1 1287.4 L270.5 1288 L271.9 1288.6 L273.3 1289.2 L274.7 1289.7 L276.1 1290.3 L277.6 1290.8 L279 1291.3 L280.4 1291.9 L281.8 1292.4 L283.3 1292.9 L284.7 1293.4 L286.1 1293.8 L287.6 1294.3 L289 1294.8 L290.4 1295.2 L291.9 1295.7 L293.3 1296.1 L294.8 1296.5 L296.2 1297 L297.7 1297.4 L299.2 1297.7 L300.6 1298.1 L302.1 1298.5 L303.5 1298.9 L305 1299.2 L306.5 1299.5 L307.9 1299.9 L309.4 1300.2 L310.9 1300.5 L313.1 1300.9 L315.3 1301.3 L317.5 1301.7 L319.7 1302.1 L321.9 1302.4 L324.1 1302.7 L326.3 1303 L328.5 1303.2 L330.8 1303.4 L333 1303.5 L335.2 1303.6 L337.4 1303.7 L339.6 1303.7 L341.8 1303.6 L344.1 1303.5 L346.3 1303.4 L348.5 1303.2 L350.7 1303 L353 1302.8 L355.2 1302.5 L357.4 1302.3 L359.6 1301.9 L361.9 1301.6 L363.3 1301.4 L364.8 1301.1 L366.3 1300.8 L367.8 1300.6 L369.3 1300.3 L370.7 1300 L372.2 1299.7 L373.7 1299.5 L375.2 1299.2 L376.7 1298.9 L378.2 1298.6 L379.6 1298.3 L381.1 1298 L382.6 1297.7 L384.1 1297.4 L385.5 1297.1 L387 1296.8 L388.5 1296.4 L390 1296.1 L391.4 1295.8 L392.9 1295.5 L394.4 1295.2 L395.9 1294.9 L397.3 1294.6 L398.8 1294.2 L400.3 1293.9 L401.7 1293.6 L403.2 1293.3 L404.7 1292.9 L406.1 1292.6 L407.6 1292.3 L409.1 1291.9 L410.5 1291.6 L412 1291.2 L413.5 1290.9 L414.9 1290.5 L416.4 1290.2 L417.9 1289.8 L419.3 1289.4 L420.8 1289.1 L422.2 1288.7 L423.7 1288.3 L425.2 1287.9 L426.6 1287.6 L428.1 1287.2 L429.5 1286.8 L431 1286.4 L432.4 1286 L433.9 1285.6 L435.3 1285.2 L436.8 1284.8 L438.2 1284.3 L439.7 1283.9 L441.1 1283.5 L442.6 1283 L444 1282.6 L445.5 1282.2 L446.9 1281.7 L448.3 1281.3 L449.8 1280.8 L451.2 1280.3 L452.6 1279.9 L454.1 1279.4 L455.5 1278.9 L456.9 1278.4 L458.3 1277.9 L459.8 1277.4 L461.2 1276.9 L462.6 1276.4 L464 1275.8 L465.4 1275.3 L466.8 1274.8 L468.2 1274.2 L469.6 1273.7 L471 1273.1 L473.1 1272.3 L475.1 1271.4 L477.2 1270.5 L479.3 1269.6 L481.3 1268.7 L483.3 1267.7 L485.4 1266.8 L487.4 1265.8 L489.4 1264.8 L491.4 1263.8 L493.4 1262.8 L495.3 1261.7 L497.3 1260.6 L499.2 1259.5 L501.2 1258.4 L503.1 1257.3 L505 1256.1 L506.9 1254.9 L508.8 1253.7 L510.6 1252.5 L512.5 1251.3 L514.3 1250 L516.1 1248.7 L517.9 1247.4 L519.7 1246 L521.5 1244.7 L523.2 1243.3 L525 1241.9 L526.7 1240.4 L528.4 1239 L530.1 1237.5 L531.2 1236.5 L532.4 1235.5 L533.5 1234.5 L534.6 1233.5 L535.8 1232.5 L536.9 1231.5 L538 1230.5 L539.1 1229.5 L540.3 1228.5 L541.4 1227.5 L542.5 1226.5 L543.6 1225.5 L544.8 1224.5 L545.9 1223.5 L547.1 1222.5 L548.2 1221.5 L549.4 1220.5 L550.5 1219.5 L551.7 1218.5 L552.9 1217.6 L554 1216.6 L555.2 1215.6 L556.4 1214.7 L557.6 1213.7 L558.8 1212.8 L560 1211.8 L561.2 1210.9 L562.3 1209.9 L563.5 1209 L564.7 1208 L565.9 1207.1 L567.1 1206.1 L568.3 1205.1 L569.4 1204.2 L570.6 1203.2 L571.8 1202.3 L572.9 1201.3 L574.1 1200.3 L575.2 1199.3 L576.3 1198.3 L577.5 1197.3 L579.1 1195.8 L580.8 1194.3 L582.4 1192.8 L584 1191.2 L585.5 1189.6 L587 1188 L588.5 1186.3 L589.9 1184.6 L591.3 1182.9 L592.7 1181.2 L594 1179.4 L595.3 1177.6 L596.5 1175.7 L597.6 1173.8 L598.7 1171.9 L599.8 1169.9 L600.9 1167.9 L601.9 1165.9 L602.8 1163.9 L603.7 1161.9 L604.6 1159.8 L605.5 1157.7 L606.3 1155.7 L607.1 1153.6 L607.9 1151.5 L608.7 1149.4 L609.4 1147.2 L610.1 1145.1 L610.8 1143 L611.5 1140.8 L611.9 1139.4 L612.3 1137.9 L612.7 1136.5 L613.1 1135 L613.5 1133.6 L613.9 1132.1 L614.3 1130.7 L614.7 1129.2 L615.1 1127.8 L615.4 1126.3 L615.8 1124.8 L616.1 1123.4 L616.5 1121.9 L616.8 1120.4 L617.2 1118.9 L617.5 1117.5 L617.8 1116 L618.2 1114.5 L618.5 1113 L618.8 1111.6 L619.2 1110.1 L619.5 1108.6 L619.8 1107.1 L620.1 1105.6 L620.4 1104.2 L620.8 1102.7 L621.1 1101.2 L621.4 1099.7 L621.7 1098.2 L622.1 1096.8 L622.4 1095.3 L622.7 1093.8 L623 1092.3 L623.4 1090.9 L623.7 1089.4 L624 1087.9 L624.4 1086.5 L624.7 1085 L625.1 1083.5 L625.4 1082.1 L625.8 1080.6 L626.1 1079.1 L626.5 1077.7 L626.9 1076.2 L627.2 1074.8 L627.6 1073.3 L628 1071.9 L628.5 1069.7 L629.1 1067.5 L629.7 1065.3 L630.3 1063.2 L630.8 1061 L631.4 1058.8 L632 1056.7 L632.6 1054.5 L633.2 1052.3 L633.7 1050.2 L634.3 1048 L634.9 1045.8 L635.4 1043.7 L636 1041.5 L636.6 1039.3 L637.1 1037.1 L637.7 1035 L638.2 1032.8 L638.7 1030.6 L639.2 1028.4 L639.7 1026.3 L640.2 1024.1 L640.7 1021.9 L641.2 1019.7 L641.7 1017.5 L642.1 1015.3 L642.6 1013.1 L643 1010.9 L643.5 1008.7 L643.9 1006.5 L644.3 1004.3 L644.8 1002.1 L645.2 999.9 L645.6 997.7 L646 995.5 L646.3 993.2 L646.7 991 L647 989.5 L647.2 988.1 L647.5 986.6 L647.7 985.1 L647.9 983.6 L648.2 982.1 L648.4 980.7 L648.7 979.2 L648.9 977.7 L649.1 976.2 L649.3 974.7 L649.6 973.2 L649.8 971.7 L650 970.3 L650.2 968.8 L650.4 967.3 L650.7 965.8 L650.9 964.3 L651.1 962.8 L651.3 961.3 L651.5 959.8 L651.7 958.3 L651.9 956.8 L652.1 955.4 L652.3 953.9 L652.5 952.4 L652.7 950.9 L652.9 949.4 L653.1 947.9 L653.3 946.4 L653.5 944.9 L653.7 943.4 L653.9 941.9 L654.1 940.4 L654.3 938.9 L654.5 937.4 L654.6 935.9 L654.8 934.5 L655 933 L655.2 931.5 L655.4 930 L655.6 928.5 L655.8 927 L656 925.5 L656.2 924 L656.3 922.5 L656.5 921 L656.7 919.5 L656.9 918 L657.1 916.5 L657.3 915 L657.5 913.5 L657.7 912 L657.8 910.5 L658 909.1 L658.2 907.6 L658.4 906.1 L658.6 904.6 L658.8 903.1 L659 901.6 L659.2 900.1 L659.4 898.6 L659.6 897.1 L659.8 895.6 L660 894.1 L660.1 892.7 L660.3 891.2 L660.5 889.7 L660.7 888.2 L660.9 886.7 L661.2 885.2 L661.5 883 L661.8 880.8 L662.1 878.5 L662.4 876.3 L662.7 874.1 L663.1 871.9 L663.4 869.7 L663.7 867.4 L664.1 865.2 L664.4 863 L664.8 860.8 L665.1 858.6 L665.5 856.4 L665.8 854.2 L666.2 852 L666.6 849.8 L667 847.6 L667 847.6 L683 846 L682.9 846.7 L682.5 848.9 L682.2 851.1 L681.9 853.3 L681.5 855.5 L681.2 857.7 L680.9 859.9 L680.6 862 L680.2 864.2 L679.9 866.4 L679.6 868.6 L679.3 870.8 L678.9 873 L678.6 875.2 L678.3 877.4 L678 879.6 L677.6 881.7 L677.3 883.9 L677 886.1 L676.7 888.3 L676.3 890.5 L676 892.7 L675.7 894.9 L675.4 897.1 L675.1 899.3 L674.7 901.5 L674.4 903.6 L674.1 905.8 L673.8 908 L673.5 910.2 L673.1 912.4 L672.8 914.6 L672.5 916.8 L672.2 919 L671.8 921.2 L671.5 923.4 L671.2 925.5 L670.9 927.7 L670.5 929.9 L670.2 932.1 L669.9 934.3 L669.5 936.5 L669.2 938.7 L668.9 940.9 L668.6 943.1 L668.2 945.2 L667.9 947.4 L667.6 949.6 L667.2 951.8 L666.9 954 L666.5 956.2 L666.2 958.4 L665.9 960.6 L665.5 962.7 L665.2 964.9 L664.8 967.1 L664.5 969.3 L664.1 971.5 L663.8 973.7 L663.4 975.9 L663.1 978 L662.7 980.2 L662.4 982.4 L662 984.6 L661.7 986.8 L661.3 989 L660.9 991.1 L660.6 993.3 L660.2 995.5 L659.8 997.7 L659.5 999.9 L659.1 1002.1 L658.7 1004.2 L658.3 1006.4 L657.9 1008.6 L657.6 1010.8 L657.2 1013 L656.8 1015.1 L656.4 1017.3 L656 1019.5 L655.6 1021.7 L655.2 1023.8 L654.8 1026 L654.4 1028.2 L654 1030.4 L653.6 1032.5 L653.2 1034.7 L652.7 1036.9 L652.3 1039.1 L651.9 1041.2 L651.5 1043.4 L651 1045.6 L650.6 1047.7 L650.2 1049.9 L649.7 1052.1 L649.3 1054.2 L648.9 1056.4 L648.4 1058.6 L647.9 1060.7 L647.5 1062.9 L647 1065.1 L646.6 1067.2 L646.1 1069.4 L645.6 1071.6 L645.2 1073.7 L644.7 1075.9 L644.2 1078 L643.7 1080.2 L643.2 1082.4 L642.7 1084.5 L642.2 1086.7 L641.7 1088.8 L641.1 1091 L640.6 1093.1 L640 1095.2 L639.5 1097.4 L638.9 1099.5 L638.4 1101.7 L637.8 1103.8 L637.2 1105.9 L636.6 1108 L635.9 1110.2 L635.3 1112.3 L634.7 1114.4 L634 1116.5 L633.3 1118.6 L632.7 1120.7 L632 1122.8 L631.3 1124.9 L630.5 1127 L629.8 1129 L629 1131.1 L628.3 1133.2 L627.5 1135.2 L626.7 1137.3 L625.9 1139.4 L625.1 1141.4 L624.2 1143.5 L623.4 1145.5 L622.6 1147.6 L621.8 1149.7 L621 1151.7 L620.2 1153.8 L619.4 1155.9 L618.6 1158 L617.8 1160.1 L617.1 1162.2 L616.3 1164.3 L615.6 1166.4 L614.9 1168.5 L614.1 1170.7 L613.4 1172.8 L612.6 1174.9 L611.9 1177 L611.1 1179.1 L610.4 1181.2 L609.6 1183.3 L608.8 1185.3 L607.9 1187.4 L607.1 1189.4 L606.1 1191.4 L605.2 1193.3 L604.1 1195.2 L603.1 1197.1 L601.9 1198.9 L600.7 1200.6 L599.4 1202.3 L598 1203.9 L596.5 1205.5 L595 1207 L593.4 1208.5 L591.8 1210 L590.1 1211.4 L588.4 1212.9 L586.8 1214.3 L585.1 1215.8 L583.4 1217.2 L581.8 1218.7 L580.1 1220.2 L578.5 1221.7 L576.9 1223.3 L575.3 1224.8 L573.7 1226.4 L572.1 1227.9 L570.5 1229.5 L568.9 1231 L567.4 1232.6 L565.8 1234.1 L564.2 1235.7 L562.6 1237.2 L560.9 1238.7 L559.3 1240.2 L557.6 1241.7 L556 1243.1 L554.3 1244.5 L552.6 1245.9 L550.9 1247.3 L549.2 1248.7 L547.4 1250.1 L545.7 1251.4 L543.9 1252.7 L542.1 1254 L540.4 1255.3 L538.5 1256.6 L536.7 1257.8 L534.9 1259.1 L533.1 1260.3 L531.2 1261.5 L529.4 1262.7 L527.5 1263.9 L525.6 1265.1 L523.7 1266.3 L521.8 1267.5 L519.9 1268.6 L518 1269.8 L516.1 1270.9 L514.1 1272 L512.2 1273.1 L510.2 1274.2 L508.3 1275.3 L506.3 1276.4 L504.3 1277.4 L502.3 1278.5 L500.3 1279.5 L498.3 1280.5 L496.3 1281.4 L494.3 1282.4 L492.3 1283.3 L490.2 1284.2 L488.2 1285 L486.1 1285.8 L484.1 1286.6 L482 1287.4 L479.9 1288.1 L477.8 1288.8 L475.7 1289.5 L473.6 1290.1 L471.5 1290.7 L469.4 1291.3 L467.2 1291.8 L465.1 1292.3 L462.9 1292.8 L460.8 1293.3 L458.6 1293.7 L456.5 1294.1 L454.3 1294.5 L452.1 1294.9 L450 1295.3 L447.8 1295.6 L445.6 1296 L443.4 1296.3 L441.2 1296.6 L439.1 1296.9 L436.9 1297.2 L434.7 1297.5 L432.5 1297.7 L430.3 1298 L428.1 1298.2 L425.9 1298.5 L423.7 1298.8 L421.5 1299 L419.3 1299.2 L417.1 1299.5 L414.9 1299.7 L412.7 1299.9 L410.5 1300.2 L408.3 1300.4 L406 1300.6 L403.8 1300.8 L401.6 1301 L399.4 1301.2 L397.2 1301.4 L395 1301.6 L392.8 1301.8 L390.6 1301.9 L388.4 1302.1 L386.2 1302.3 L383.9 1302.4 L381.7 1302.6 L379.5 1302.8 L377.3 1302.9 L375.1 1303 L372.9 1303.2 L370.7 1303.3 L368.4 1303.4 L366.2 1303.5 L364 1303.7 L361.8 1303.8 L359.6 1303.9 L357.4 1304 L355.1 1304.1 L352.9 1304.1 L350.7 1304.2 L348.5 1304.3 L346.3 1304.4 L344.1 1304.4 L341.8 1304.5 L339.6 1304.5 L337.4 1304.6 L335.2 1304.6 L333 1304.7 L330.7 1304.7 L328.5 1304.7 L326.3 1304.7 L324.1 1304.7 L321.9 1304.7 L319.7 1304.7 L317.4 1304.7 L315.2 1304.7 L313 1304.7 L310.8 1304.7 L308.6 1304.6 L306.4 1304.6 L304.1 1304.5 L301.9 1304.5 L299.7 1304.4 L297.5 1304.4 L295.3 1304.3 L293.1 1304.2 L290.8 1304.1 L288.6 1304 L286.4 1303.9 L284.2 1303.8 L282 1303.7 L279.8 1303.6 L277.6 1303.5 L275.4 1303.4 L273.2 1303.2 L270.9 1303.1 L268.7 1302.9 L266.5 1302.8 L264.3 1302.6 L262.1 1302.4 L259.9 1302.2 L257.7 1302.1 L255.5 1301.9 L253.3 1301.7 L251.1 1301.5 L248.9 1301.2 L246.7 1301 L244.5 1300.8 L242.3 1300.6 L240.1 1300.3 L237.9 1300.1 L235.7 1299.8 L233.5 1299.5 L231.3 1299.3 L229.1 1299 L226.9 1298.7 L224.7 1298.4 L222.5 1298.1 L220.4 1297.8 L218.2 1297.5 L216 1297.1 L213.8 1296.8 L211.6 1296.5 L209.4 1296.1 L207.3 1295.8 L205.1 1295.4 L202.9 1295 L200.7 1294.7 L198.5 1294.3 L196.4 1293.9 L194.2 1293.5 L192 1293.1 L189.9 1292.6 L187.7 1292.2 L185.5 1291.8 L183.4 1291.3 L181.2 1290.9 L179 1290.4 L176.9 1290 L174.7 1289.5 L172.6 1289 L170.4 1288.5 L168.2 1288 L166.1 1287.5 L163.9 1287 L161.8 1286.5 L159.6 1285.9 L157.5 1285.4 L155.4 1284.8 L153.2 1284.3 L151.1 1283.7 L148.9 1283.1 L146.8 1282.6 L144.7 1282 L142.5 1281.4 L140.4 1280.8 L138.3 1280.1 L136.2 1279.5 L134 1278.9 L131.9 1278.2 L129.8 1277.6 L127.7 1276.9 L125.6 1276.2 L123.4 1275.6 L121.3 1274.9 L119.2 1274.2 L117.1 1273.5Z" fill="#FF0000" fill-opacity="0.3"/>
<path d="M116.5 1227.7 L117.7 1228.7 L118.8 1229.7 L120 1230.7 L121.2 1231.7 L122.3 1232.6 L123.5 1233.6 L124.7 1234.5 L125.9 1235.5 L127.1 1236.4 L128.3 1237.3 L129.5 1238.2 L131.3 1239.5 L133.1 1240.8 L134.9 1242.1 L136.8 1243.4 L138.6 1244.6 L140.5 1245.8 L142.3 1247 L144.2 1248.2 L146.1 1249.4 L148 1250.5 L149.9 1251.6 L151.8 1252.7 L153.7 1253.8 L155.7 1254.9 L157.6 1255.9 L159.6 1257 L161.5 1258 L163.5 1259 L165.4 1259.9 L167.4 1260.9 L169.4 1261.9 L171.4 1262.8 L173.4 1263.7 L175.4 1264.6 L177.4 1265.5 L179.4 1266.4 L181.5 1267.2 L183.5 1268.1 L185.5 1268.9 L187.6 1269.7 L189.6 1270.5 L191.7 1271.3 L193.8 1272.1 L195.8 1272.9 L197.9 1273.7 L200 1274.4 L202.1 1275.2 L204.2 1275.9 L206.3 1276.6 L208.4 1277.4 L210.5 1278.1 L212.6 1278.8 L214.8 1279.5 L216.9 1280.2 L219 1280.9 L221.2 1281.5 L223.3 1282.2 L225.4 1282.9 L226.9 1283.3 L228.3 1283.7 L229.8 1284.2 L231.2 1284.6 L232.6 1285.1 L234.1 1285.5 L235.5 1285.9 L237 1286.3 L238.4 1286.8 L239.9 1287.2 L241.3 1287.6 L242.8 1288 L244.2 1288.5 L245.7 1288.9 L247.1 1289.3 L248.6 1289.7 L250.1 1290.2 L251.5 1290.6 L253 1291 L254.5 1291.4 L255.9 1291.8 L257.4 1292.3 L258.9 1292.7 L260.3 1293.1 L261.8 1293.5 L263.3 1293.9 L264.8 1294.4 L266.2 1294.8 L267.7 1295.2 L269.2 1295.6 L270.7 1296 L272.1 1296.4 L273.6 1296.8 L275.1 1297.2 L276.6 1297.6 L278.1 1298 L279.5 1298.4 L281 1298.8 L282.5 1299.2 L284 1299.6 L285.5 1299.9 L287 1300.3 L288.4 1300.6 L289.9 1301 L291.4 1301.3 L292.9 1301.6 L294.4 1302 L295.8 1302.3 L297.3 1302.6 L298.8 1302.8 L300.3 1303.1 L301.8 1303.4 L303.2 1303.6 L305.5 1304 L307.7 1304.3 L309.9 1304.6 L312.1 1304.8 L314.3 1305 L316.5 1305.2 L318.7 1305.4 L320.9 1305.5 L323.1 1305.5 L325.3 1305.6 L327.5 1305.5 L329.7 1305.5 L331.9 1305.4 L334.1 1305.2 L336.2 1305 L338.4 1304.7 L340.6 1304.4 L342.7 1304.1 L344.9 1303.7 L347 1303.2 L349.2 1302.7 L351.3 1302.2 L353.5 1301.6 L355.6 1301 L357.8 1300.4 L359.9 1299.7 L362 1299.1 L364.2 1298.4 L366.3 1297.7 L368.4 1297 L370.6 1296.3 L372 1295.9 L373.4 1295.4 L374.9 1295 L376.3 1294.5 L377.7 1294.1 L379.9 1293.4 L382 1292.8 L384.2 1292.2 L386.4 1291.6 L388.5 1291 L390.7 1290.4 L392.9 1289.9 L395.1 1289.3 L397.2 1288.8 L399.4 1288.3 L401.6 1287.8 L403.8 1287.2 L406 1286.7 L408.1 1286.2 L410.3 1285.8 L412.5 1285.3 L414.7 1284.8 L416.9 1284.3 L419 1283.8 L421.2 1283.3 L423.4 1282.8 L425.6 1282.3 L427.7 1281.8 L429.9 1281.2 L432.1 1280.7 L434.2 1280.2 L436.4 1279.6 L438.5 1279 L440.7 1278.5 L442.9 1277.9 L445 1277.3 L447.1 1276.7 L449.3 1276.1 L451.4 1275.5 L453.6 1274.8 L455.7 1274.2 L457.8 1273.5 L459.9 1272.9 L462.1 1272.2 L464.2 1271.5 L466.3 1270.8 L468.4 1270.1 L470.5 1269.4 L472.6 1268.7 L474.7 1268 L476.8 1267.3 L478.9 1266.5 L481 1265.8 L483.1 1265 L485.2 1264.2 L487.3 1263.5 L489.4 1262.7 L491.4 1261.9 L493.5 1261.1 L495.6 1260.3 L497.7 1259.5 L499.7 1258.6 L501.8 1257.8 L503.9 1256.9 L505.9 1256.1 L508 1255.2 L510 1254.4 L512.1 1253.5 L514.1 1252.6 L516.2 1251.7 L518.2 1250.8 L520.3 1249.9 L522.3 1249 L524.3 1248.1 L526.4 1247.1 L528.4 1246.2 L530.4 1245.3 L532.4 1244.3 L534.5 1243.4 L536.5 1242.4 L538.5 1241.4 L540.5 1240.4 L542.5 1239.4 L544.5 1238.5 L546.5 1237.4 L548.5 1236.4 L550.5 1235.4 L552.5 1234.4 L554.5 1233.4 L556.5 1232.3 L558.5 1231.3 L560.5 1230.3 L562.5 1229.2 L564.4 1228.1 L566.4 1227.1 L568.4 1226 L570.4 1224.9 L572.3 1223.8 L574.3 1222.7 L576.2 1221.6 L578.2 1220.5 L580.1 1219.3 L581.9 1218.1 L583.8 1216.9 L585.5 1215.6 L587.3 1214.2 L588.9 1212.8 L590.5 1211.3 L592.1 1209.8 L593.5 1208.2 L594.9 1206.5 L596.2 1204.8 L597.5 1203 L598.8 1201.2 L600 1199.3 L601.1 1197.4 L602.2 1195.5 L603.3 1193.5 L604.4 1191.5 L605.5 1189.6 L606.5 1187.6 L607.6 1185.6 L608.6 1183.6 L609.6 1181.6 L610.7 1179.6 L611.7 1177.6 L612.7 1175.6 L613.6 1173.6 L614.6 1171.6 L615.6 1169.6 L616.6 1167.6 L617.5 1165.5 L618.5 1163.5 L619.4 1161.5 L620.3 1159.5 L621.2 1157.4 L622.2 1155.4 L623.1 1153.3 L623.9 1151.3 L624.8 1149.2 L625.7 1147.2 L626.6 1145.1 L627.4 1143.1 L628.3 1141 L629.1 1139 L629.9 1136.9 L630.8 1134.8 L631.6 1132.7 L632.4 1130.7 L633.2 1128.6 L634 1126.5 L634.8 1124.4 L635.5 1122.3 L636.3 1120.2 L637.1 1118.1 L637.8 1116 L638.6 1113.9 L639.3 1111.8 L640 1109.7 L640.8 1107.6 L641.5 1105.5 L642.2 1103.4 L642.9 1101.3 L643.6 1099.2 L644.2 1097.1 L644.9 1094.9 L645.6 1092.8 L646.2 1090.7 L646.9 1088.6 L647.5 1086.4 L648.2 1084.3 L648.8 1082.2 L649.4 1080 L650.1 1077.9 L650.7 1075.7 L651.3 1073.6 L651.9 1071.4 L652.5 1069.3 L653 1067.1 L653.6 1065 L654.2 1062.8 L654.8 1060.7 L655.3 1058.5 L655.9 1056.4 L656.4 1054.2 L656.9 1052 L657.5 1049.9 L658 1047.7 L658.5 1045.5 L659 1043.4 L659.5 1041.2 L660 1039 L660.5 1036.9 L661 1034.7 L661.5 1032.5 L662 1030.3 L662.4 1028.2 L662.9 1026 L663.4 1023.8 L663.8 1021.6 L664.3 1019.4 L664.7 1017.2 L665.1 1015.1 L665.6 1012.9 L666 1010.7 L666.4 1008.5 L666.8 1006.3 L667.2 1004.1 L667.6 1001.9 L668 999.7 L668.4 997.5 L668.8 995.3 L669.2 993.1 L669.6 990.9 L670 988.7 L670.4 986.5 L670.7 984.3 L671.1 982.1 L671.5 979.9 L671.8 977.7 L672.2 975.5 L672.6 973.3 L672.9 971.1 L673.3 968.9 L673.6 966.7 L673.9 964.5 L674.3 962.3 L674.6 960.1 L675 957.9 L675.3 955.7 L675.6 953.5 L676 951.3 L676.3 949.1 L676.6 946.9 L676.9 944.6 L677.3 942.4 L677.6 940.2 L677.9 938 L678.2 935.8 L678.5 933.6 L678.8 931.4 L679.1 929.2 L679.5 927 L679.8 924.7 L680.1 922.5 L680.4 920.3 L680.7 918.1 L681 915.9 L681.3 913.7 L681.6 911.5 L681.9 909.3 L682.2 907.1 L682.5 904.8 L682.9 902.6 L683.2 900.4 L683.5 898.2 L683.8 896 L684.1 893.8 L684.4 891.6 L684.7 889.4 L685 887.2 L685.3 885 L685.7 882.8 L686 880.5 L686.3 878.3 L686.6 876.1 L686.9 873.9 L687.2 871.7 L687.6 869.5 L687.9 867.3 L688.2 865.1 L688.6 862.9 L688.9 860.7 L689.2 858.5 L689.6 856.3 L689.9 854.1 L690.2 851.9 L690.6 849.7 L690.9 847.5 L690.9 847.5 L730 846 L730 846 L729.8 847.5 L729.6 849 L729.4 850.6 L729.2 852.1 L729 853.6 L728.8 855.1 L728.5 856.6 L728.3 858.1 L728 859.7 L727.8 861.2 L727.5 862.7 L727.3 864.2 L727 865.7 L726.7 867.2 L726.4 868.7 L726.1 870.2 L725.8 871.7 L725.5 873.2 L725.2 874.7 L724.9 876.2 L724.6 877.7 L724.3 879.2 L723.9 880.6 L723.6 882.1 L723.3 883.6 L723 885.1 L722.6 886.6 L722.3 888.1 L722 889.6 L721.6 891.1 L721.3 892.6 L721 894.1 L720.6 895.6 L720.3 897.1 L720 898.6 L719.6 900.1 L719.3 901.5 L719 903 L718.7 904.5 L718.4 906 L718 907.5 L717.7 909 L717.4 910.5 L717.1 912 L716.8 913.5 L716.5 915 L716.2 916.5 L715.9 918 L715.7 919.5 L715.4 921 L715.1 922.6 L714.9 924.1 L714.6 925.6 L714.4 927.1 L714.1 928.6 L713.9 930.1 L713.7 931.6 L713.4 933.2 L713.2 934.7 L713 936.2 L712.8 937.7 L712.6 939.3 L712.4 940.8 L712.1 942.3 L711.9 943.8 L711.6 945.3 L711.4 946.8 L711.1 948.3 L710.8 949.8 L710.5 951.3 L710.1 952.8 L709.7 954.3 L709.3 955.8 L708.9 957.3 L708.5 958.7 L708 960.2 L707.6 961.6 L707.1 963.1 L706.6 964.6 L706.1 966 L705.6 967.5 L705 968.9 L704.5 970.3 L704 971.8 L703.4 973.2 L702.9 974.7 L702.3 976.1 L701.8 977.5 L701.2 979 L700.7 980.4 L700.1 981.9 L699.6 983.3 L699.1 984.7 L698.5 986.2 L698 987.6 L697.5 989.1 L697 990.5 L696.6 992 L696.1 993.4 L695.7 994.9 L695.3 996.4 L694.9 997.8 L694.5 999.3 L694.1 1000.8 L693.8 1002.3 L693.5 1003.7 L693.2 1005.2 L693 1006.7 L692.8 1008.2 L692.6 1009.8 L692.5 1011.3 L692.3 1012.8 L692.2 1014.3 L692.2 1015.9 L692.1 1017.4 L692 1019 L692 1020.5 L691.9 1022 L691.8 1023.6 L691.8 1025.1 L691.7 1026.6 L691.6 1028.2 L691.4 1029.7 L691.3 1031.2 L691.1 1032.7 L690.9 1034.2 L690.6 1035.7 L690.3 1037.2 L690 1038.7 L689.7 1040.2 L689.4 1041.7 L689 1043.1 L688.7 1044.6 L688.3 1046.1 L687.8 1047.5 L687.4 1049 L686.9 1050.4 L686.5 1051.9 L686 1053.3 L685.5 1054.8 L685 1056.2 L684.5 1057.7 L683.9 1059.1 L683.4 1060.5 L682.9 1062 L682.3 1063.4 L681.7 1064.8 L681.2 1066.2 L680.6 1067.7 L680 1069.1 L679.5 1070.5 L678.9 1072 L678.3 1073.4 L677.7 1074.8 L677.2 1076.2 L676.6 1077.7 L676 1079.1 L675.5 1080.5 L674.9 1082 L674.4 1083.4 L673.8 1084.8 L673.3 1086.3 L672.8 1087.7 L672.2 1089.2 L671.7 1090.6 L671.3 1092.1 L670.8 1093.5 L670.3 1095 L669.9 1096.4 L669.4 1097.9 L669 1099.4 L668.6 1100.8 L668.2 1102.3 L667.8 1103.8 L667.4 1105.3 L667 1106.7 L666.6 1108.2 L666.2 1109.7 L665.8 1111.1 L665.4 1112.6 L665 1114.1 L664.6 1115.6 L664.2 1117.1 L663.9 1118.5 L663.5 1120 L663.1 1121.5 L662.7 1122.9 L662.3 1124.4 L661.9 1125.9 L661.4 1127.3 L661 1128.8 L660.6 1130.3 L660.1 1131.7 L659.7 1133.2 L659.2 1134.6 L658.8 1136.1 L658.3 1137.5 L657.8 1139 L657.3 1140.4 L656.8 1141.9 L656.3 1143.3 L655.8 1144.7 L655.2 1146.2 L654.7 1147.6 L654.2 1149 L653.6 1150.4 L653 1151.9 L652.5 1153.3 L651.9 1154.7 L651.3 1156.1 L650.7 1157.5 L650.1 1158.9 L649.5 1160.3 L648.9 1161.8 L648.3 1163.2 L647.7 1164.6 L647.1 1166 L646.4 1167.4 L645.8 1168.7 L645.1 1170.1 L644.5 1171.5 L643.8 1172.9 L643.2 1174.3 L642.5 1175.7 L641.9 1177.1 L641.2 1178.5 L640.5 1179.8 L639.8 1181.2 L639.1 1182.6 L638.4 1184 L637.7 1185.3 L637 1186.7 L636.3 1188.1 L635.6 1189.4 L634.9 1190.8 L634.2 1192.2 L633.5 1193.5 L632.8 1194.9 L632 1196.2 L631.3 1197.6 L630.6 1198.9 L629.8 1200.3 L629.1 1201.6 L628.3 1202.9 L627.5 1204.3 L626.8 1205.6 L626 1206.9 L625.2 1208.2 L624.4 1209.5 L623.6 1210.8 L622.8 1212.1 L622 1213.4 L621.2 1214.7 L620.3 1216 L619.5 1217.2 L618.6 1218.5 L617.8 1219.8 L616.9 1221 L616 1222.2 L615.1 1223.5 L614.2 1224.7 L613.3 1225.9 L612.4 1227.1 L611.5 1228.3 L610.5 1229.5 L609.5 1230.6 L608.6 1231.8 L607.6 1232.9 L606.6 1234.1 L605.6 1235.2 L604.6 1236.3 L603.5 1237.4 L602.5 1238.5 L601.4 1239.6 L600.3 1240.7 L599.2 1241.7 L598.1 1242.8 L597 1243.8 L595.9 1244.8 L594.7 1245.8 L593.6 1246.8 L592.4 1247.8 L591.2 1248.7 L590 1249.7 L588.7 1250.6 L587.5 1251.5 L586.2 1252.4 L584.9 1253.3 L583.6 1254.2 L582.3 1255 L581 1255.9 L579.7 1256.7 L578.3 1257.5 L577 1258.3 L575.6 1259 L574.2 1259.8 L572.9 1260.5 L571.5 1261.2 L570.1 1261.9 L568.7 1262.6 L567.3 1263.3 L565.9 1263.9 L564.5 1264.6 L563.1 1265.2 L561.7 1265.8 L560.3 1266.4 L558.8 1267 L557.4 1267.5 L556 1268.1 L554.6 1268.6 L553.1 1269.1 L551.7 1269.6 L550.3 1270.1 L548.8 1270.6 L547.4 1271.1 L545.9 1271.6 L544.5 1272.1 L543 1272.5 L541.6 1273 L540.1 1273.4 L538.7 1273.9 L537.2 1274.3 L535.8 1274.7 L534.3 1275.2 L532.9 1275.6 L531.4 1276 L529.9 1276.5 L528.5 1276.9 L527 1277.3 L525.5 1277.7 L524.1 1278.1 L522.6 1278.5 L521.2 1279 L519.7 1279.4 L518.2 1279.8 L516.8 1280.2 L515.3 1280.7 L513.8 1281.1 L512.4 1281.5 L510.9 1281.9 L509.5 1282.4 L508 1282.8 L506.5 1283.2 L505.1 1283.7 L503.6 1284.1 L502.1 1284.5 L500.7 1285 L499.2 1285.4 L497.7 1285.8 L496.3 1286.3 L494.8 1286.7 L493.3 1287.1 L491.9 1287.5 L490.4 1288 L488.9 1288.4 L487.4 1288.8 L486 1289.2 L484.5 1289.6 L483 1290 L481.5 1290.5 L480 1290.9 L478.6 1291.3 L477.1 1291.7 L475.6 1292.1 L474.1 1292.5 L472.6 1292.8 L471.1 1293.2 L469.6 1293.6 L468.2 1294 L466.7 1294.4 L465.2 1294.7 L463.7 1295.1 L462.2 1295.4 L460.7 1295.8 L459.2 1296.1 L457.7 1296.5 L456.2 1296.8 L454.7 1297.2 L453.2 1297.5 L451.7 1297.8 L450.2 1298.1 L448.7 1298.4 L447.2 1298.7 L445.7 1299 L444.2 1299.3 L442.7 1299.6 L441.1 1299.8 L439.6 1300.1 L438.1 1300.4 L436.6 1300.6 L435.1 1300.9 L433.6 1301.1 L432.1 1301.3 L430.6 1301.5 L429 1301.7 L427.5 1301.9 L426 1302.1 L424.5 1302.3 L423 1302.5 L421.5 1302.7 L419.9 1302.8 L418.4 1303 L416.9 1303.1 L415.4 1303.3 L413.9 1303.4 L412.4 1303.5 L410.8 1303.6 L409.3 1303.7 L407.8 1303.8 L406.3 1303.9 L404.7 1304 L403.2 1304.1 L401.7 1304.2 L400.2 1304.3 L398.6 1304.4 L397.1 1304.4 L395.6 1304.5 L394.1 1304.6 L392.5 1304.6 L391 1304.7 L389.5 1304.7 L388 1304.8 L386.4 1304.8 L384.9 1304.8 L383.4 1304.9 L381.9 1304.9 L380.3 1304.9 L378.8 1305 L377.3 1305 L375.7 1305 L374.2 1305 L372.7 1305 L371.2 1305.1 L369.6 1305.1 L368.1 1305.1 L366.6 1305.1 L365 1305.1 L363.5 1305.1 L362 1305.1 L360.4 1305.1 L358.9 1305.1 L357.4 1305.1 L355.9 1305.1 L354.3 1305.1 L352.8 1305.1 L351.3 1305.1 L349.7 1305.1 L348.2 1305.2 L346.7 1305.2 L345.1 1305.2 L343.6 1305.2 L342.1 1305.2 L340.5 1305.2 L339 1305.2 L337.5 1305.2 L336 1305.2 L334.4 1305.3 L332.9 1305.3 L331.4 1305.3 L329.8 1305.3 L328.3 1305.4 L326.8 1305.4 L325.2 1305.4 L323.7 1305.5 L322.2 1305.5 L320.7 1305.5 L319.1 1305.6 L317.6 1305.6 L316.1 1305.6 L314.5 1305.7 L313 1305.7 L311.5 1305.8 L309.9 1305.8 L308.4 1305.8 L306.9 1305.9 L305.4 1305.9 L303.8 1306 L302.3 1306 L300.8 1306.1 L299.2 1306.1 L297.7 1306.2 L296.2 1306.2 L294.6 1306.3 L293.1 1306.3 L291.6 1306.4 L290.1 1306.4 L288.5 1306.5 L287 1306.6 L285.5 1306.6 L283.9 1306.7 L282.4 1306.7 L280.9 1306.8 L279.4 1306.8 L277.8 1306.9 L276.3 1307 L274.8 1307 L273.2 1307.1 L271.7 1307.1 L270.2 1307.2 L268.7 1307.3 L267.1 1307.3 L265.6 1307.4 L264.1 1307.4 L262.5 1307.5 L261 1307.6 L259.5 1307.6 L258 1307.7 L256.4 1307.7 L254.9 1307.8 L253.4 1307.9 L251.8 1307.9 L250.3 1308 L248.8 1308 L247.3 1308.1 L245.7 1308.1 L244.2 1308.2 L242.7 1308.3 L241.1 1308.3 L239.6 1308.4 L238.1 1308.4 L236.6 1308.5 L235 1308.5 L233.5 1308.6 L232 1308.6 L230.4 1308.7 L228.9 1308.7 L227.4 1308.8 L225.9 1308.8 L224.3 1308.9 L222.8 1308.9 L221.3 1309 L219.7 1309 L218.2 1309.1 L216.7 1309.1 L215.2 1309.2 L213.6 1309.2 L212.1 1309.2 L210.6 1309.3 L209 1309.3 L207.5 1309.3 L206 1309.4 L204.5 1309.4 L202.9 1309.4 L201.4 1309.5 L199.9 1309.5 L198.3 1309.5 L196.8 1309.6 L195.3 1309.6 L193.8 1309.6 L192.2 1309.6 L190.7 1309.6 L189.2 1309.7 L187.6 1309.7 L186.1 1309.7 L184.6 1309.7 L183.1 1309.7 L181.5 1309.7 L180 1309.7 L178.5 1309.7 L176.9 1309.7 L175.4 1309.7 L173.9 1309.7 L172.3 1309.7 L170.8 1309.7 L169.3 1309.7 L167.8 1309.7 L166.2 1309.7 L164.7 1309.6 L163.2 1309.6 L161.6 1309.6 L160.1 1309.6 L158.6 1309.5 L157 1309.5 L155.5 1309.5 L154 1309.5 L152.5 1309.4 L150.9 1309.4 L149.4 1309.3 L147.9 1309.3 L146.3 1309.2 L144.8 1309.2 L143.3 1309.1 L141.7 1309.1 L140.2 1309 L138.7 1309 L137.2 1308.9 L135.6 1308.8 L134.1 1308.7 L132.6 1308.7 L131 1308.6 L129.5 1308.5 L128 1308.4 L126.4 1308.3 L124.9 1308.2 L123.4 1308.1 L121.8 1308 L120.3 1307.9 L118.8 1307.8 L117.3 1307.7Z" fill="#0000FF" fill-opacity="0.3"/>
<line x1="313.4" y1="872.6" x2="313.4" y2="1451.7" stroke="#0000FF" stroke-width="1.8" stroke-dasharray="5.6 6.27" stroke-dashoffset="-5.6"/>
<line x1="340.7" y1="872.6" x2="340.7" y2="1451.7" stroke="#F25A40" stroke-width="1.4" stroke-dasharray="5.6 6.27" stroke-dashoffset="-5.6"/>
<line x1="354.2" y1="872.6" x2="354.2" y2="1451.7" stroke="#000" stroke-width="1.8"/>
<line x1="647.6" y1="872.6" x2="647.6" y2="1451.7" stroke="#C82626" stroke-width="1.5"/>
</g>
<line x1="105.5" y1="872.6" x2="105.5" y2="1452.5" stroke="#000" stroke-width="1.6"/>
<line x1="104.7" y1="1451.7" x2="770.0" y2="1451.7" stroke="#000" stroke-width="1.6"/>
<line x1="91.2" y1="1304.7" x2="105.5" y2="1304.7" stroke="#000" stroke-width="1.6"/>
<text transform="translate(73.3 1304.7) rotate(-90)" text-anchor="middle" font-size="23">1.0</text>
<line x1="91.2" y1="1146.6" x2="105.5" y2="1146.6" stroke="#000" stroke-width="1.6"/>
<text transform="translate(73.3 1146.6) rotate(-90)" text-anchor="middle" font-size="23">1.5</text>
<line x1="91.2" y1="988.5" x2="105.5" y2="988.5" stroke="#000" stroke-width="1.6"/>
<text transform="translate(73.3 988.5) rotate(-90)" text-anchor="middle" font-size="23">2.0</text>
<line x1="143.8" y1="1451.7" x2="143.8" y2="1466.7" stroke="#000" stroke-width="1.6"/>
<text x="144.4" y="1502.6" text-anchor="middle" font-size="23">10</text>
<line x1="280.4" y1="1451.7" x2="280.4" y2="1466.7" stroke="#000" stroke-width="1.6"/>
<text x="281" y="1502.6" text-anchor="middle" font-size="23">15</text>
<line x1="416.9" y1="1451.7" x2="416.9" y2="1466.7" stroke="#000" stroke-width="1.6"/>
<text x="417.5" y="1502.6" text-anchor="middle" font-size="23">20</text>
<line x1="553.5" y1="1451.7" x2="553.5" y2="1466.7" stroke="#000" stroke-width="1.6"/>
<text x="554.1" y="1502.6" text-anchor="middle" font-size="23">25</text>
<line x1="690" y1="1451.7" x2="690" y2="1466.7" stroke="#000" stroke-width="1.6"/>
<text x="690.6" y="1502.6" text-anchor="middle" font-size="23">30</text>
<text x="437.4" y="1557.9" text-anchor="middle" font-size="23.3">Summer temperatures (°C)</text>
<text transform="translate(17.4 1162) rotate(-90)" text-anchor="middle" font-size="23">RR</text>
<text x="105.4" y="804.3" font-size="27.5" font-weight="bold">b)</text>
<text x="437.3" y="839.3" text-anchor="middle" font-size="23.2">99th RR: 1.61; 99th RR men: 1.56; 99th RR women: 1.88</text>
<line x1="375.1" y1="1335.8" x2="413.9" y2="1335.8" stroke="#000" stroke-width="1.5"/>
<line x1="375.1" y1="1361.0" x2="413.9" y2="1361.0" stroke="#FF0000" stroke-width="1.5" stroke-dasharray="6 5.6"/>
<line x1="375.1" y1="1386.2" x2="413.9" y2="1386.2" stroke="#0000FF" stroke-width="1.5" stroke-dasharray="6 5.6"/>
<line x1="375.1" y1="1411.4" x2="413.9" y2="1411.4" stroke="#C82626" stroke-width="1.5"/>
<text x="431.4" y="1343.5" font-size="21.6">MMT: +17.7°C</text>
<text x="431.4" y="1368.7" font-size="21.6">MMT men: +16.2°C</text>
<text x="431.4" y="1393.9" font-size="21.6">MMT women:+17.2°C</text>
<text x="431.4" y="1419.1" font-size="21.6">99th percentile</text>
</svg></body></html>
